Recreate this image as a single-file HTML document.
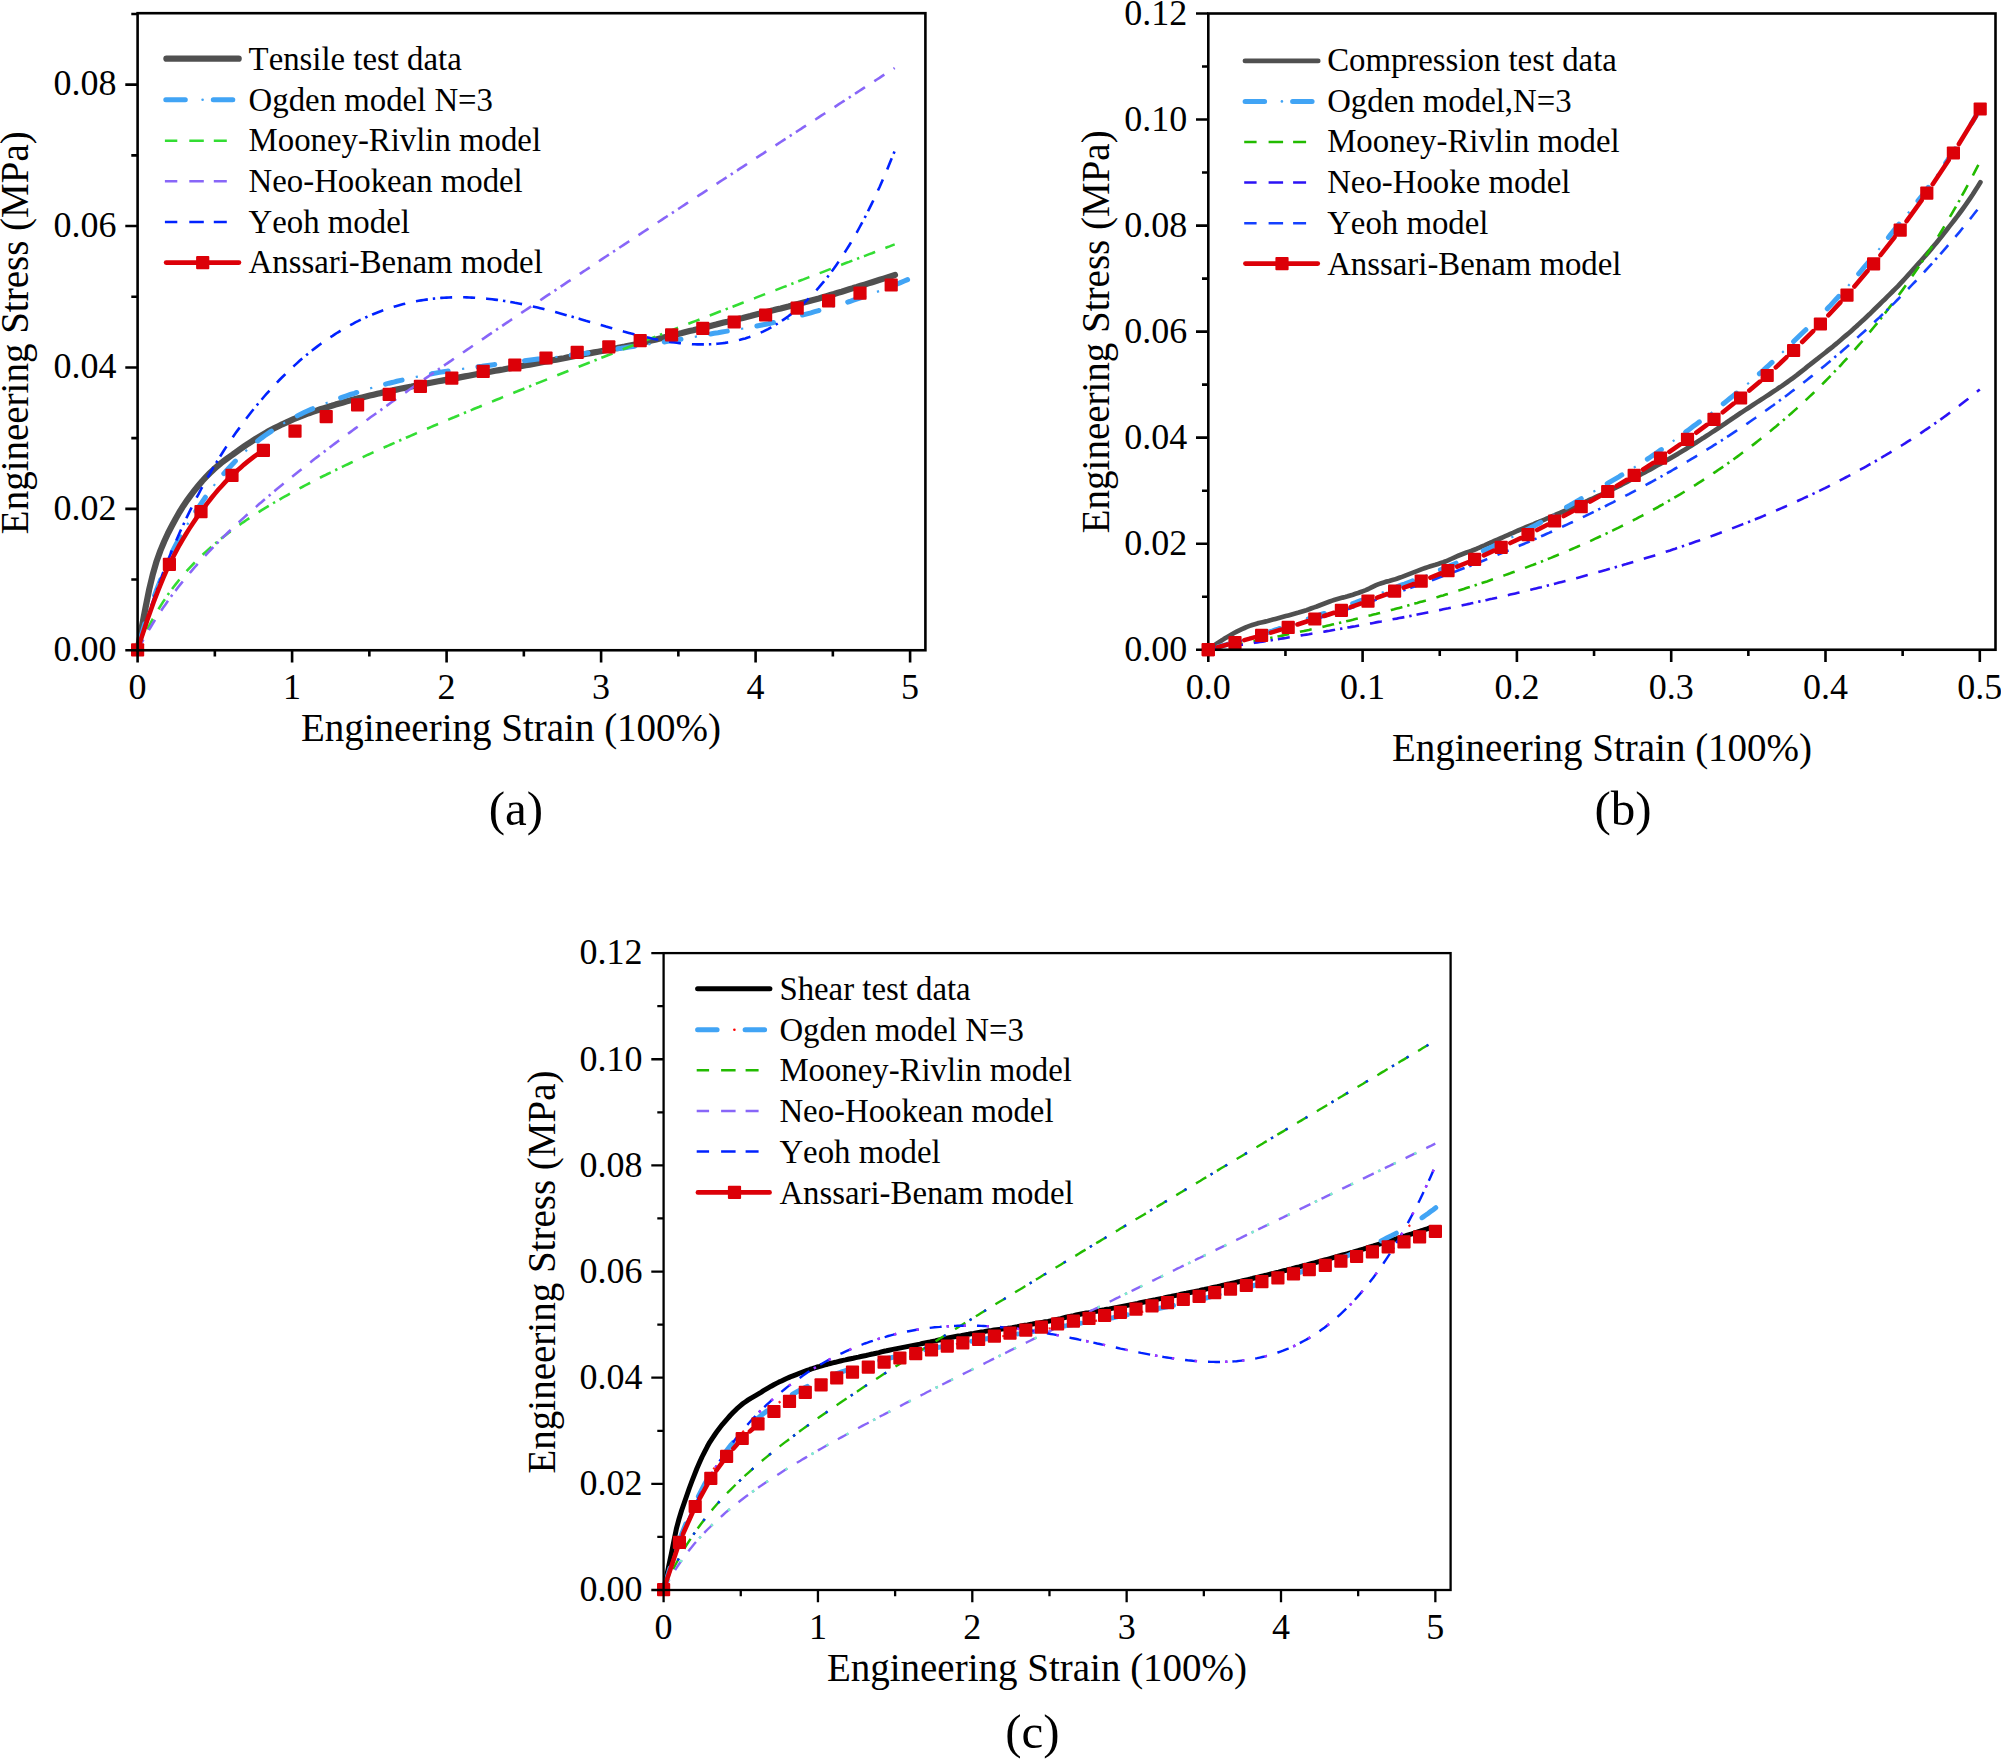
<!DOCTYPE html>
<html lang="en"><head><meta charset="utf-8"><title>Hyperelastic model fits</title>
<style>html,body{margin:0;padding:0;background:#fff}svg{display:block}text{font-family:'Liberation Serif', 'Times New Roman', serif;font-kerning:none}</style></head><body>
<svg width="2001" height="1759" viewBox="0 0 2001 1759">
<rect width="2001" height="1759" fill="#fff"/>
<g id="chart-a">
<path d="M137.6,650.2 L141.4,629.3 L145.2,609.4 L149.0,590.3 L152.8,574.4 L156.6,561.2 L160.4,550.6 L164.2,541.5 L168.0,533.3 L171.9,525.8 L175.7,518.7 L179.5,512.0 L183.3,505.9 L187.1,500.3 L190.9,495.1 L194.7,490.2 L198.5,485.5 L202.3,481.0 L206.1,476.9 L209.9,473.0 L213.7,469.4 L217.5,466.0 L221.3,462.9 L225.1,460.0 L228.9,457.2 L232.8,454.5 L236.6,451.7 L240.4,449.0 L244.2,446.4 L248.0,443.8 L251.8,441.4 L255.6,438.9 L259.4,436.6 L263.2,434.3 L267.0,432.1 L270.8,430.1 L274.6,428.1 L278.4,426.2 L282.2,424.3 L286.0,422.6 L289.8,420.9 L293.6,419.2 L297.5,417.6 L301.3,416.1 L305.1,414.6 L308.9,413.2 L312.7,411.9 L316.5,410.6 L320.3,409.3 L324.1,408.1 L327.9,406.9 L331.7,405.8 L335.5,404.6 L339.3,403.5 L343.1,402.4 L346.9,401.3 L350.7,400.3 L354.5,399.3 L358.3,398.3 L362.2,397.4 L366.0,396.5 L369.8,395.6 L373.6,394.7 L377.4,393.8 L381.2,392.9 L385.0,392.1 L388.8,391.3 L392.6,390.4 L396.4,389.6 L400.2,388.8 L404.0,388.0 L407.8,387.2 L411.6,386.5 L415.4,385.7 L419.2,384.9 L423.1,384.2 L426.9,383.4 L430.7,382.7 L434.5,382.0 L438.3,381.3 L442.1,380.6 L445.9,379.9 L449.7,379.3 L453.5,378.6 L457.3,377.9 L461.1,377.1 L464.9,376.4 L468.7,375.7 L472.5,375.0 L476.3,374.3 L480.1,373.6 L483.9,372.9 L487.8,372.2 L491.6,371.5 L495.4,370.8 L499.2,370.1 L503.0,369.5 L506.8,368.8 L510.6,368.1 L514.4,367.4 L518.2,366.7 L522.0,366.0 L525.8,365.3 L529.6,364.6 L533.4,363.9 L537.2,363.2 L541.0,362.5 L544.8,361.8 L548.7,361.1 L552.5,360.3 L556.3,359.6 L560.1,358.9 L563.9,358.2 L567.7,357.4 L571.5,356.7 L575.3,356.0 L579.1,355.3 L582.9,354.5 L586.7,353.8 L590.5,353.1 L594.3,352.4 L598.1,351.7 L601.9,351.0 L605.7,350.3 L609.5,349.6 L613.4,348.8 L617.2,348.1 L621.0,347.3 L624.8,346.6 L628.6,345.8 L632.4,345.0 L636.2,344.2 L640.0,343.3 L643.8,342.5 L647.6,341.6 L651.4,340.6 L655.2,339.7 L659.0,338.7 L662.8,337.7 L666.6,336.7 L670.4,335.8 L674.3,334.8 L678.1,333.9 L681.9,333.0 L685.7,332.0 L689.5,331.1 L693.3,330.2 L697.1,329.2 L700.9,328.3 L704.7,327.3 L708.5,326.4 L712.3,325.4 L716.1,324.5 L719.9,323.5 L723.7,322.6 L727.5,321.7 L731.3,320.7 L735.1,319.8 L739.0,318.8 L742.8,317.9 L746.6,316.9 L750.4,316.0 L754.2,315.0 L758.0,314.1 L761.8,313.2 L765.6,312.2 L769.4,311.2 L773.2,310.3 L777.0,309.3 L780.8,308.4 L784.6,307.4 L788.4,306.5 L792.2,305.5 L796.0,304.5 L799.8,303.5 L803.7,302.5 L807.5,301.5 L811.3,300.4 L815.1,299.4 L818.9,298.4 L822.7,297.3 L826.5,296.2 L830.3,295.1 L834.1,294.0 L837.9,292.8 L841.7,291.7 L845.5,290.5 L849.3,289.3 L853.1,288.1 L856.9,287.0 L860.7,285.8 L864.6,284.6 L868.4,283.4 L872.2,282.2 L876.0,281.0 L879.8,279.8 L883.6,278.6 L887.4,277.4 L891.2,276.2 L895.0,275.0" stroke="#505050" stroke-width="6.2" stroke-linecap="round" stroke-linejoin="round" fill="none"/>
<path d="M137.6,650.2 L141.5,635.5 L145.3,622.1 L149.2,610.3 L153.1,599.5 L156.9,589.2 L160.8,579.2 L164.7,569.4 L168.6,560.1 L172.4,551.5 L176.3,543.8 L180.2,536.7 L184.0,529.9 L187.9,523.6 L191.8,517.5 L195.6,511.5 L199.5,505.8 L203.4,500.1 L207.2,494.6 L211.1,489.3 L215.0,484.2 L218.9,479.3 L222.7,474.8 L226.6,470.4 L230.5,466.2 L234.3,462.2 L238.2,458.3 L242.1,454.5 L245.9,450.9 L249.8,447.4 L253.7,444.2 L257.5,441.1 L261.4,438.1 L265.3,435.3 L269.2,432.6 L273.0,430.0 L276.9,427.5 L280.8,425.1 L284.6,422.8 L288.5,420.5 L292.4,418.4 L296.2,416.4 L300.1,414.4 L304.0,412.6 L307.9,410.8 L311.7,409.1 L315.6,407.4 L319.5,405.8 L323.3,404.3 L327.2,402.8 L331.1,401.3 L334.9,399.9 L338.8,398.5 L342.7,397.1 L346.5,395.8 L350.4,394.5 L354.3,393.3 L358.2,392.0 L362.0,390.8 L365.9,389.6 L369.8,388.5 L373.6,387.4 L377.5,386.3 L381.4,385.2 L385.2,384.2 L389.1,383.2 L393.0,382.3 L396.8,381.3 L400.7,380.4 L404.6,379.5 L408.5,378.6 L412.3,377.7 L416.2,376.9 L420.1,376.1 L423.9,375.3 L427.8,374.5 L431.7,373.8 L435.5,373.1 L439.4,372.4 L443.3,371.8 L447.1,371.2 L451.0,370.6 L454.9,370.0 L458.8,369.5 L462.6,368.9 L466.5,368.4 L470.4,367.9 L474.2,367.3 L478.1,366.8 L482.0,366.3 L485.8,365.7 L489.7,365.2 L493.6,364.7 L497.4,364.2 L501.3,363.7 L505.2,363.2 L509.1,362.7 L512.9,362.2 L516.8,361.7 L520.7,361.2 L524.5,360.7 L528.4,360.2 L532.3,359.7 L536.1,359.2 L540.0,358.8 L543.9,358.3 L547.8,357.9 L551.6,357.4 L555.5,357.0 L559.4,356.5 L563.2,356.1 L567.1,355.6 L571.0,355.1 L574.8,354.7 L578.7,354.2 L582.6,353.7 L586.4,353.2 L590.3,352.6 L594.2,352.1 L598.1,351.6 L601.9,351.0 L605.8,350.5 L609.7,349.9 L613.5,349.4 L617.4,348.8 L621.3,348.3 L625.1,347.7 L629.0,347.1 L632.9,346.6 L636.7,346.0 L640.6,345.5 L644.5,344.9 L648.4,344.3 L652.2,343.7 L656.1,343.2 L660.0,342.6 L663.8,342.0 L667.7,341.4 L671.6,340.7 L675.4,340.1 L679.3,339.5 L683.2,338.8 L687.0,338.1 L690.9,337.4 L694.8,336.8 L698.7,336.1 L702.5,335.4 L706.4,334.7 L710.3,334.0 L714.1,333.3 L718.0,332.7 L721.9,332.0 L725.7,331.4 L729.6,330.7 L733.5,330.1 L737.3,329.5 L741.2,328.8 L745.1,328.2 L749.0,327.5 L752.8,326.8 L756.7,326.1 L760.6,325.3 L764.4,324.5 L768.3,323.7 L772.2,322.8 L776.0,321.9 L779.9,320.9 L783.8,320.0 L787.7,319.0 L791.5,318.0 L795.4,316.9 L799.3,315.9 L803.1,314.9 L807.0,313.8 L810.9,312.8 L814.7,311.7 L818.6,310.6 L822.5,309.6 L826.3,308.5 L830.2,307.4 L834.1,306.2 L838.0,305.1 L841.8,303.9 L845.7,302.7 L849.6,301.5 L853.4,300.2 L857.3,298.9 L861.2,297.6 L865.0,296.2 L868.9,294.8 L872.8,293.4 L876.6,292.0 L880.5,290.6 L884.4,289.1 L888.3,287.6 L892.1,286.0 L896.0,284.4 L899.9,282.9 L903.7,281.2 L907.6,279.6" stroke="#41a4f5" stroke-width="5" stroke-linecap="round" fill="none" stroke-dasharray="17 30" stroke-dashoffset="36.6"/>
<path d="M137.6,650.2 L141.5,635.5 L145.3,622.1 L149.2,610.3 L153.1,599.5 L156.9,589.2 L160.8,579.2 L164.7,569.4 L168.6,560.1 L172.4,551.5 L176.3,543.8 L180.2,536.7 L184.0,529.9 L187.9,523.6 L191.8,517.5 L195.6,511.5 L199.5,505.8 L203.4,500.1 L207.2,494.6 L211.1,489.3 L215.0,484.2 L218.9,479.3 L222.7,474.8 L226.6,470.4 L230.5,466.2 L234.3,462.2 L238.2,458.3 L242.1,454.5 L245.9,450.9 L249.8,447.4 L253.7,444.2 L257.5,441.1 L261.4,438.1 L265.3,435.3 L269.2,432.6 L273.0,430.0 L276.9,427.5 L280.8,425.1 L284.6,422.8 L288.5,420.5 L292.4,418.4 L296.2,416.4 L300.1,414.4 L304.0,412.6 L307.9,410.8 L311.7,409.1 L315.6,407.4 L319.5,405.8 L323.3,404.3 L327.2,402.8 L331.1,401.3 L334.9,399.9 L338.8,398.5 L342.7,397.1 L346.5,395.8 L350.4,394.5 L354.3,393.3 L358.2,392.0 L362.0,390.8 L365.9,389.6 L369.8,388.5 L373.6,387.4 L377.5,386.3 L381.4,385.2 L385.2,384.2 L389.1,383.2 L393.0,382.3 L396.8,381.3 L400.7,380.4 L404.6,379.5 L408.5,378.6 L412.3,377.7 L416.2,376.9 L420.1,376.1 L423.9,375.3 L427.8,374.5 L431.7,373.8 L435.5,373.1 L439.4,372.4 L443.3,371.8 L447.1,371.2 L451.0,370.6 L454.9,370.0 L458.8,369.5 L462.6,368.9 L466.5,368.4 L470.4,367.9 L474.2,367.3 L478.1,366.8 L482.0,366.3 L485.8,365.7 L489.7,365.2 L493.6,364.7 L497.4,364.2 L501.3,363.7 L505.2,363.2 L509.1,362.7 L512.9,362.2 L516.8,361.7 L520.7,361.2 L524.5,360.7 L528.4,360.2 L532.3,359.7 L536.1,359.2 L540.0,358.8 L543.9,358.3 L547.8,357.9 L551.6,357.4 L555.5,357.0 L559.4,356.5 L563.2,356.1 L567.1,355.6 L571.0,355.1 L574.8,354.7 L578.7,354.2 L582.6,353.7 L586.4,353.2 L590.3,352.6 L594.2,352.1 L598.1,351.6 L601.9,351.0 L605.8,350.5 L609.7,349.9 L613.5,349.4 L617.4,348.8 L621.3,348.3 L625.1,347.7 L629.0,347.1 L632.9,346.6 L636.7,346.0 L640.6,345.5 L644.5,344.9 L648.4,344.3 L652.2,343.7 L656.1,343.2 L660.0,342.6 L663.8,342.0 L667.7,341.4 L671.6,340.7 L675.4,340.1 L679.3,339.5 L683.2,338.8 L687.0,338.1 L690.9,337.4 L694.8,336.8 L698.7,336.1 L702.5,335.4 L706.4,334.7 L710.3,334.0 L714.1,333.3 L718.0,332.7 L721.9,332.0 L725.7,331.4 L729.6,330.7 L733.5,330.1 L737.3,329.5 L741.2,328.8 L745.1,328.2 L749.0,327.5 L752.8,326.8 L756.7,326.1 L760.6,325.3 L764.4,324.5 L768.3,323.7 L772.2,322.8 L776.0,321.9 L779.9,320.9 L783.8,320.0 L787.7,319.0 L791.5,318.0 L795.4,316.9 L799.3,315.9 L803.1,314.9 L807.0,313.8 L810.9,312.8 L814.7,311.7 L818.6,310.6 L822.5,309.6 L826.3,308.5 L830.2,307.4 L834.1,306.2 L838.0,305.1 L841.8,303.9 L845.7,302.7 L849.6,301.5 L853.4,300.2 L857.3,298.9 L861.2,297.6 L865.0,296.2 L868.9,294.8 L872.8,293.4 L876.6,292.0 L880.5,290.6 L884.4,289.1 L888.3,287.6 L892.1,286.0 L896.0,284.4 L899.9,282.9 L903.7,281.2 L907.6,279.6" stroke="#41a4f5" stroke-width="2.2" fill="none" stroke-dasharray="0 31 2.2 13.8" stroke-dashoffset="36.6"/>
<path d="M137.6,650.2 L140.1,644.4 L142.7,638.8 L145.2,633.5 L147.7,628.4 L150.3,623.6 L152.8,618.9 L155.3,614.5 L157.9,610.2 L160.4,606.1 L162.9,602.1 L165.5,598.3 L168.0,594.6 L170.5,591.1 L173.0,587.7 L175.6,584.4 L178.1,581.2 L180.6,578.1 L183.2,575.1 L185.7,572.2 L188.2,569.4 L190.8,566.6 L193.3,564.0 L195.8,561.4 L198.4,558.9 L200.9,556.4 L203.4,554.0 L206.0,551.7 L208.5,549.4 L211.0,547.1 L213.6,544.9 L216.1,542.8 L218.6,540.7 L221.2,538.6 L223.7,536.6 L226.2,534.7 L228.7,532.7 L231.3,530.8 L233.8,528.9 L236.3,527.1 L238.9,525.3 L241.4,523.5 L243.9,521.8 L246.5,520.0 L249.0,518.3 L251.5,516.7 L254.1,515.0 L256.6,513.4 L259.1,511.8 L261.7,510.2 L264.2,508.6 L266.7,507.1 L269.3,505.5 L271.8,504.0 L274.3,502.5 L276.9,501.0 L279.4,499.6 L281.9,498.1 L284.5,496.7 L287.0,495.3 L289.5,493.9 L292.0,492.5 L294.6,491.1 L297.1,489.7 L299.6,488.3 L302.2,487.0 L304.7,485.6 L307.2,484.3 L309.8,483.0 L312.3,481.7 L314.8,480.4 L317.4,479.1 L319.9,477.8 L322.4,476.5 L325.0,475.3 L327.5,474.0 L330.0,472.8 L332.6,471.5 L335.1,470.3 L337.6,469.0 L340.2,467.8 L342.7,466.6 L345.2,465.4 L347.8,464.2 L350.3,463.0 L352.8,461.8 L355.3,460.6 L357.9,459.4 L360.4,458.3 L362.9,457.1 L365.5,455.9 L368.0,454.7 L370.5,453.6 L373.1,452.4 L375.6,451.3 L378.1,450.1 L380.7,449.0 L383.2,447.9 L385.7,446.7 L388.3,445.6 L390.8,444.5 L393.3,443.4 L395.9,442.2 L398.4,441.1 L400.9,440.0 L403.5,438.9 L406.0,437.8 L408.5,436.7 L411.0,435.6 L413.6,434.5 L416.1,433.4 L418.6,432.3 L421.2,431.2 L423.7,430.1 L426.2,429.0 L428.8,428.0 L431.3,426.9 L433.8,425.8 L436.4,424.7 L438.9,423.7 L441.4,422.6 L444.0,421.5 L446.5,420.5 L449.0,419.4 L451.6,418.3 L454.1,417.3 L456.6,416.2 L459.2,415.1 L461.7,414.1 L464.2,413.0 L466.8,412.0 L469.3,410.9 L471.8,409.9 L474.3,408.8 L476.9,407.8 L479.4,406.8 L481.9,405.7 L484.5,404.7 L487.0,403.6 L489.5,402.6 L492.1,401.6 L494.6,400.5 L497.1,399.5 L499.7,398.5 L502.2,397.4 L504.7,396.4 L507.3,395.4 L509.8,394.3 L512.3,393.3 L514.9,392.3 L517.4,391.3 L519.9,390.2 L522.5,389.2 L525.0,388.2 L527.5,387.2 L530.1,386.2 L532.6,385.1 L535.1,384.1 L537.6,383.1 L540.2,382.1 L542.7,381.1 L545.2,380.1 L547.8,379.1 L550.3,378.0 L552.8,377.0 L555.4,376.0 L557.9,375.0 L560.4,374.0 L563.0,373.0 L565.5,372.0 L568.0,371.0 L570.6,370.0 L573.1,369.0 L575.6,368.0 L578.2,367.0 L580.7,366.0 L583.2,365.0 L585.8,364.0 L588.3,363.0 L590.8,362.0 L593.3,361.0 L595.9,360.0 L598.4,359.0 L600.9,358.0 L603.5,357.0 L606.0,356.0 L608.5,355.0 L611.1,354.0 L613.6,353.0 L616.1,352.0 L618.7,351.0 L621.2,350.0 L623.7,349.0 L626.3,348.0 L628.8,347.0 L631.3,346.0 L633.9,345.0 L636.4,344.0 L638.9,343.0 L641.5,342.1 L644.0,341.1 L646.5,340.1 L649.1,339.1 L651.6,338.1 L654.1,337.1 L656.6,336.1 L659.2,335.1 L661.7,334.2 L664.2,333.2 L666.8,332.2 L669.3,331.2 L671.8,330.2 L674.4,329.2 L676.9,328.2 L679.4,327.3 L682.0,326.3 L684.5,325.3 L687.0,324.3 L689.6,323.3 L692.1,322.3 L694.6,321.4 L697.2,320.4 L699.7,319.4 L702.2,318.4 L704.8,317.4 L707.3,316.4 L709.8,315.5 L712.4,314.5 L714.9,313.5 L717.4,312.5 L719.9,311.5 L722.5,310.6 L725.0,309.6 L727.5,308.6 L730.1,307.6 L732.6,306.7 L735.1,305.7 L737.7,304.7 L740.2,303.7 L742.7,302.7 L745.3,301.8 L747.8,300.8 L750.3,299.8 L752.9,298.8 L755.4,297.9 L757.9,296.9 L760.5,295.9 L763.0,294.9 L765.5,294.0 L768.1,293.0 L770.6,292.0 L773.1,291.0 L775.6,290.1 L778.2,289.1 L780.7,288.1 L783.2,287.1 L785.8,286.2 L788.3,285.2 L790.8,284.2 L793.4,283.2 L795.9,282.3 L798.4,281.3 L801.0,280.3 L803.5,279.4 L806.0,278.4 L808.6,277.4 L811.1,276.4 L813.6,275.5 L816.2,274.5 L818.7,273.5 L821.2,272.6 L823.8,271.6 L826.3,270.6 L828.8,269.6 L831.4,268.7 L833.9,267.7 L836.4,266.7 L838.9,265.8 L841.5,264.8 L844.0,263.8 L846.5,262.8 L849.1,261.9 L851.6,260.9 L854.1,259.9 L856.7,259.0 L859.2,258.0 L861.7,257.0 L864.3,256.1 L866.8,255.1 L869.3,254.1 L871.9,253.2 L874.4,252.2 L876.9,251.2 L879.5,250.3 L882.0,249.3 L884.5,248.3 L887.1,247.3 L889.6,246.4 L892.1,245.4 L894.7,244.4" stroke="#33dd33" stroke-width="2.6" fill="none" stroke-dasharray="12 11 12 11 12 5 2.4 5"/>
<path d="M137.6,650.2 L140.1,645.5 L142.7,640.8 L145.2,636.3 L147.7,631.9 L150.3,627.7 L152.8,623.5 L155.3,619.5 L157.9,615.6 L160.4,611.8 L162.9,608.0 L165.5,604.4 L168.0,600.8 L170.5,597.4 L173.0,593.9 L175.6,590.6 L178.1,587.3 L180.6,584.1 L183.2,581.0 L185.7,577.9 L188.2,574.8 L190.8,571.8 L193.3,568.9 L195.8,566.0 L198.4,563.2 L200.9,560.4 L203.4,557.6 L206.0,554.9 L208.5,552.2 L211.0,549.5 L213.6,546.9 L216.1,544.3 L218.6,541.8 L221.2,539.2 L223.7,536.7 L226.2,534.3 L228.7,531.8 L231.3,529.4 L233.8,527.0 L236.3,524.6 L238.9,522.3 L241.4,519.9 L243.9,517.6 L246.5,515.3 L249.0,513.1 L251.5,510.8 L254.1,508.6 L256.6,506.4 L259.1,504.1 L261.7,502.0 L264.2,499.8 L266.7,497.6 L269.3,495.5 L271.8,493.4 L274.3,491.2 L276.9,489.1 L279.4,487.0 L281.9,485.0 L284.5,482.9 L287.0,480.8 L289.5,478.8 L292.0,476.8 L294.6,474.7 L297.1,472.7 L299.6,470.7 L302.2,468.7 L304.7,466.7 L307.2,464.7 L309.8,462.8 L312.3,460.8 L314.8,458.8 L317.4,456.9 L319.9,454.9 L322.4,453.0 L325.0,451.1 L327.5,449.2 L330.0,447.2 L332.6,445.3 L335.1,443.4 L337.6,441.5 L340.2,439.6 L342.7,437.8 L345.2,435.9 L347.8,434.0 L350.3,432.1 L352.8,430.3 L355.3,428.4 L357.9,426.6 L360.4,424.7 L362.9,422.9 L365.5,421.0 L368.0,419.2 L370.5,417.3 L373.1,415.5 L375.6,413.7 L378.1,411.9 L380.7,410.1 L383.2,408.2 L385.7,406.4 L388.3,404.6 L390.8,402.8 L393.3,401.0 L395.9,399.2 L398.4,397.4 L400.9,395.6 L403.5,393.8 L406.0,392.1 L408.5,390.3 L411.0,388.5 L413.6,386.7 L416.1,385.0 L418.6,383.2 L421.2,381.4 L423.7,379.6 L426.2,377.9 L428.8,376.1 L431.3,374.4 L433.8,372.6 L436.4,370.8 L438.9,369.1 L441.4,367.3 L444.0,365.6 L446.5,363.8 L449.0,362.1 L451.6,360.4 L454.1,358.6 L456.6,356.9 L459.2,355.1 L461.7,353.4 L464.2,351.7 L466.8,349.9 L469.3,348.2 L471.8,346.5 L474.3,344.8 L476.9,343.0 L479.4,341.3 L481.9,339.6 L484.5,337.9 L487.0,336.1 L489.5,334.4 L492.1,332.7 L494.6,331.0 L497.1,329.3 L499.7,327.6 L502.2,325.9 L504.7,324.1 L507.3,322.4 L509.8,320.7 L512.3,319.0 L514.9,317.3 L517.4,315.6 L519.9,313.9 L522.5,312.2 L525.0,310.5 L527.5,308.8 L530.1,307.1 L532.6,305.4 L535.1,303.7 L537.6,302.0 L540.2,300.3 L542.7,298.6 L545.2,296.9 L547.8,295.2 L550.3,293.6 L552.8,291.9 L555.4,290.2 L557.9,288.5 L560.4,286.8 L563.0,285.1 L565.5,283.4 L568.0,281.7 L570.6,280.1 L573.1,278.4 L575.6,276.7 L578.2,275.0 L580.7,273.3 L583.2,271.6 L585.8,270.0 L588.3,268.3 L590.8,266.6 L593.3,264.9 L595.9,263.2 L598.4,261.6 L600.9,259.9 L603.5,258.2 L606.0,256.5 L608.5,254.9 L611.1,253.2 L613.6,251.5 L616.1,249.9 L618.7,248.2 L621.2,246.5 L623.7,244.8 L626.3,243.2 L628.8,241.5 L631.3,239.8 L633.9,238.2 L636.4,236.5 L638.9,234.8 L641.5,233.2 L644.0,231.5 L646.5,229.8 L649.1,228.2 L651.6,226.5 L654.1,224.8 L656.6,223.2 L659.2,221.5 L661.7,219.8 L664.2,218.2 L666.8,216.5 L669.3,214.8 L671.8,213.2 L674.4,211.5 L676.9,209.9 L679.4,208.2 L682.0,206.5 L684.5,204.9 L687.0,203.2 L689.6,201.6 L692.1,199.9 L694.6,198.2 L697.2,196.6 L699.7,194.9 L702.2,193.3 L704.8,191.6 L707.3,190.0 L709.8,188.3 L712.4,186.6 L714.9,185.0 L717.4,183.3 L719.9,181.7 L722.5,180.0 L725.0,178.4 L727.5,176.7 L730.1,175.1 L732.6,173.4 L735.1,171.7 L737.7,170.1 L740.2,168.4 L742.7,166.8 L745.3,165.1 L747.8,163.5 L750.3,161.8 L752.9,160.2 L755.4,158.5 L757.9,156.9 L760.5,155.2 L763.0,153.6 L765.5,151.9 L768.1,150.3 L770.6,148.6 L773.1,147.0 L775.6,145.3 L778.2,143.7 L780.7,142.0 L783.2,140.4 L785.8,138.7 L788.3,137.1 L790.8,135.4 L793.4,133.8 L795.9,132.1 L798.4,130.5 L801.0,128.9 L803.5,127.2 L806.0,125.6 L808.6,123.9 L811.1,122.3 L813.6,120.6 L816.2,119.0 L818.7,117.3 L821.2,115.7 L823.8,114.0 L826.3,112.4 L828.8,110.7 L831.4,109.1 L833.9,107.5 L836.4,105.8 L838.9,104.2 L841.5,102.5 L844.0,100.9 L846.5,99.2 L849.1,97.6 L851.6,95.9 L854.1,94.3 L856.7,92.7 L859.2,91.0 L861.7,89.4 L864.3,87.7 L866.8,86.1 L869.3,84.4 L871.9,82.8 L874.4,81.2 L876.9,79.5 L879.5,77.9 L882.0,76.2 L884.5,74.6 L887.1,73.0 L889.6,71.3 L892.1,69.7 L894.7,68.0" stroke="#8866f8" stroke-width="2.6" fill="none" stroke-dasharray="12 11 12 11 12 5 2.4 5"/>
<path d="M137.6,650.2 L140.1,641.5 L142.7,633.0 L145.2,624.7 L147.7,616.7 L150.3,609.0 L152.8,601.4 L155.3,594.1 L157.9,587.0 L160.4,580.1 L162.9,573.3 L165.5,566.8 L168.0,560.3 L170.5,554.1 L173.0,548.0 L175.6,542.1 L178.1,536.3 L180.6,530.6 L183.2,525.1 L185.7,519.6 L188.2,514.4 L190.8,509.2 L193.3,504.1 L195.8,499.2 L198.4,494.3 L200.9,489.5 L203.4,484.9 L206.0,480.3 L208.5,475.9 L211.0,471.5 L213.6,467.2 L216.1,463.0 L218.6,458.9 L221.2,454.8 L223.7,450.8 L226.2,446.9 L228.7,443.1 L231.3,439.4 L233.8,435.7 L236.3,432.1 L238.9,428.6 L241.4,425.1 L243.9,421.7 L246.5,418.3 L249.0,415.0 L251.5,411.8 L254.1,408.6 L256.6,405.5 L259.1,402.5 L261.7,399.5 L264.2,396.5 L266.7,393.7 L269.3,390.8 L271.8,388.1 L274.3,385.3 L276.9,382.7 L279.4,380.0 L281.9,377.5 L284.5,375.0 L287.0,372.5 L289.5,370.1 L292.0,367.7 L294.6,365.4 L297.1,363.1 L299.6,360.8 L302.2,358.6 L304.7,356.5 L307.2,354.4 L309.8,352.3 L312.3,350.3 L314.8,348.4 L317.4,346.4 L319.9,344.5 L322.4,342.7 L325.0,340.9 L327.5,339.2 L330.0,337.4 L332.6,335.8 L335.1,334.1 L337.6,332.5 L340.2,331.0 L342.7,329.5 L345.2,328.0 L347.8,326.5 L350.3,325.1 L352.8,323.8 L355.3,322.4 L357.9,321.2 L360.4,319.9 L362.9,318.7 L365.5,317.5 L368.0,316.4 L370.5,315.3 L373.1,314.2 L375.6,313.2 L378.1,312.2 L380.7,311.2 L383.2,310.3 L385.7,309.4 L388.3,308.5 L390.8,307.7 L393.3,306.9 L395.9,306.2 L398.4,305.5 L400.9,304.8 L403.5,304.1 L406.0,303.5 L408.5,302.9 L411.0,302.3 L413.6,301.8 L416.1,301.3 L418.6,300.8 L421.2,300.4 L423.7,300.0 L426.2,299.6 L428.8,299.2 L431.3,298.9 L433.8,298.6 L436.4,298.4 L438.9,298.1 L441.4,297.9 L444.0,297.8 L446.5,297.6 L449.0,297.5 L451.6,297.4 L454.1,297.3 L456.6,297.3 L459.2,297.3 L461.7,297.3 L464.2,297.3 L466.8,297.4 L469.3,297.5 L471.8,297.6 L474.3,297.7 L476.9,297.9 L479.4,298.0 L481.9,298.2 L484.5,298.5 L487.0,298.7 L489.5,299.0 L492.1,299.3 L494.6,299.6 L497.1,299.9 L499.7,300.3 L502.2,300.6 L504.7,301.0 L507.3,301.4 L509.8,301.9 L512.3,302.3 L514.9,302.8 L517.4,303.2 L519.9,303.7 L522.5,304.2 L525.0,304.8 L527.5,305.3 L530.1,305.9 L532.6,306.4 L535.1,307.0 L537.6,307.6 L540.2,308.2 L542.7,308.8 L545.2,309.5 L547.8,310.1 L550.3,310.8 L552.8,311.4 L555.4,312.1 L557.9,312.8 L560.4,313.5 L563.0,314.2 L565.5,314.9 L568.0,315.6 L570.6,316.3 L573.1,317.0 L575.6,317.7 L578.2,318.5 L580.7,319.2 L583.2,319.9 L585.8,320.7 L588.3,321.4 L590.8,322.1 L593.3,322.9 L595.9,323.6 L598.4,324.4 L600.9,325.1 L603.5,325.8 L606.0,326.6 L608.5,327.3 L611.1,328.0 L613.6,328.7 L616.1,329.5 L618.7,330.2 L621.2,330.9 L623.7,331.6 L626.3,332.2 L628.8,332.9 L631.3,333.6 L633.9,334.2 L636.4,334.9 L638.9,335.5 L641.5,336.1 L644.0,336.7 L646.5,337.3 L649.1,337.8 L651.6,338.4 L654.1,338.9 L656.6,339.4 L659.2,339.9 L661.7,340.4 L664.2,340.8 L666.8,341.3 L669.3,341.7 L671.8,342.1 L674.4,342.4 L676.9,342.8 L679.4,343.1 L682.0,343.3 L684.5,343.6 L687.0,343.8 L689.6,344.0 L692.1,344.2 L694.6,344.3 L697.2,344.4 L699.7,344.4 L702.2,344.4 L704.8,344.4 L707.3,344.4 L709.8,344.3 L712.4,344.2 L714.9,344.0 L717.4,343.8 L719.9,343.5 L722.5,343.2 L725.0,342.9 L727.5,342.5 L730.1,342.1 L732.6,341.6 L735.1,341.0 L737.7,340.4 L740.2,339.8 L742.7,339.1 L745.3,338.4 L747.8,337.6 L750.3,336.7 L752.9,335.8 L755.4,334.8 L757.9,333.8 L760.5,332.7 L763.0,331.6 L765.5,330.3 L768.1,329.1 L770.6,327.7 L773.1,326.3 L775.6,324.8 L778.2,323.2 L780.7,321.6 L783.2,319.9 L785.8,318.1 L788.3,316.3 L790.8,314.4 L793.4,312.3 L795.9,310.3 L798.4,308.1 L801.0,305.8 L803.5,303.5 L806.0,301.1 L808.6,298.6 L811.1,296.0 L813.6,293.3 L816.2,290.5 L818.7,287.7 L821.2,284.7 L823.8,281.7 L826.3,278.5 L828.8,275.3 L831.4,271.9 L833.9,268.5 L836.4,264.9 L838.9,261.2 L841.5,257.5 L844.0,253.6 L846.5,249.6 L849.1,245.5 L851.6,241.3 L854.1,237.0 L856.7,232.6 L859.2,228.0 L861.7,223.4 L864.3,218.6 L866.8,213.6 L869.3,208.6 L871.9,203.4 L874.4,198.2 L876.9,192.7 L879.5,187.2 L882.0,181.5 L884.5,175.7 L887.1,169.7 L889.6,163.6 L892.1,157.4 L894.7,151.0" stroke="#0022ff" stroke-width="2.6" fill="none" stroke-dasharray="12 11 12 11 12 5 2.4 5"/>
<path d="M137.6,649.8 L140.8,639.6 L144.1,629.7 L147.3,620.1 L150.5,610.9 L153.7,602.0 L157.0,593.4 L160.2,585.3 L163.4,577.6 L166.6,570.3 L169.9,563.5 L173.1,557.0 L176.3,550.9 L179.5,545.0 L182.8,539.4 L186.0,534.0 L189.2,528.9 L192.4,523.9 L195.7,519.1 L198.9,514.5 L202.1,510.1 L205.3,505.8 L208.6,501.6 L211.8,497.5 L215.0,493.6 L218.2,489.8 L221.5,486.2 L224.7,482.7 L227.9,479.4 L231.1,476.2 L234.4,473.2 L237.6,470.2 L240.8,467.4 L244.0,464.6 L247.3,461.9 L250.5,459.4 L253.7,456.9 L256.9,454.6 L260.2,452.4 L263.4,450.4" stroke="#dc0008" stroke-width="4.6" stroke-linecap="round" fill="none"/>
<g fill="#dc0008"><rect x="131.0" y="643.2" width="13.2" height="13.2" rx="1"/><rect x="162.8" y="557.8" width="13.2" height="13.2" rx="1"/><rect x="194.4" y="505.0" width="13.2" height="13.2" rx="1"/><rect x="225.4" y="468.8" width="13.2" height="13.2" rx="1"/><rect x="256.8" y="443.8" width="13.2" height="13.2" rx="1"/><rect x="288.4" y="424.6" width="13.2" height="13.2" rx="1"/><rect x="319.6" y="410.0" width="13.2" height="13.2" rx="1"/><rect x="351.0" y="398.2" width="13.2" height="13.2" rx="1"/><rect x="382.6" y="387.8" width="13.2" height="13.2" rx="1"/><rect x="413.8" y="379.8" width="13.2" height="13.2" rx="1"/><rect x="445.2" y="371.6" width="13.2" height="13.2" rx="1"/><rect x="476.6" y="364.8" width="13.2" height="13.2" rx="1"/><rect x="508.2" y="358.4" width="13.2" height="13.2" rx="1"/><rect x="539.4" y="351.4" width="13.2" height="13.2" rx="1"/><rect x="570.6" y="345.8" width="13.2" height="13.2" rx="1"/><rect x="602.2" y="340.2" width="13.2" height="13.2" rx="1"/><rect x="633.6" y="334.0" width="13.2" height="13.2" rx="1"/><rect x="665.0" y="328.2" width="13.2" height="13.2" rx="1"/><rect x="696.2" y="321.8" width="13.2" height="13.2" rx="1"/><rect x="727.6" y="315.4" width="13.2" height="13.2" rx="1"/><rect x="759.0" y="308.4" width="13.2" height="13.2" rx="1"/><rect x="790.6" y="301.6" width="13.2" height="13.2" rx="1"/><rect x="822.0" y="294.2" width="13.2" height="13.2" rx="1"/><rect x="853.4" y="286.6" width="13.2" height="13.2" rx="1"/><rect x="884.6" y="278.4" width="13.2" height="13.2" rx="1"/></g>
<rect x="137.60" y="13.20" width="787.80" height="637.05" fill="none" stroke="#000" stroke-width="2.6"/>
<path d="M137.60,650.25v12.3M292.10,650.25v12.3M446.60,650.25v12.3M601.10,650.25v12.3M755.60,650.25v12.3M910.10,650.25v12.3M214.85,650.25v6.3M369.35,650.25v6.3M523.85,650.25v6.3M678.35,650.25v6.3M832.85,650.25v6.3M137.60,650.25h-12.3M137.60,508.85h-12.3M137.60,367.45h-12.3M137.60,226.05h-12.3M137.60,84.65h-12.3M137.60,579.55h-6.3M137.60,438.15h-6.3M137.60,296.75h-6.3M137.60,155.35h-6.3M137.60,13.95h-6.3" stroke="#000" stroke-width="2.6" fill="none"/>
<g font-size="36" fill="#000">
<text x="137.6" y="698.8" text-anchor="middle">0</text>
<text x="292.1" y="698.8" text-anchor="middle">1</text>
<text x="446.6" y="698.8" text-anchor="middle">2</text>
<text x="601.1" y="698.8" text-anchor="middle">3</text>
<text x="755.6" y="698.8" text-anchor="middle">4</text>
<text x="910.1" y="698.8" text-anchor="middle">5</text>
<text x="116.6" y="660.9" text-anchor="end">0.00</text>
<text x="116.6" y="519.5" text-anchor="end">0.02</text>
<text x="116.6" y="378.1" text-anchor="end">0.04</text>
<text x="116.6" y="236.7" text-anchor="end">0.06</text>
<text x="116.6" y="95.2" text-anchor="end">0.08</text>
</g>
<line x1="166.4" y1="58.7" x2="238.70000000000002" y2="58.7" stroke="#505050" stroke-width="6.2" stroke-linecap="round"/>
<path d="M165.8,99.7h19.5M213.3,99.7h19.5" stroke="#41a4f5" stroke-width="5" stroke-linecap="round" fill="none"/>
<circle cx="202.60000000000002" cy="99.7" r="1.3" fill="#41a4f5"/>
<path d="M164.9,140.7h12.4M189.3,140.7h14.5M213.8,140.7h13" stroke="#33dd33" stroke-width="2.5" fill="none"/>
<path d="M164.9,181.2h12.4M189.3,181.2h14.5M213.8,181.2h13" stroke="#8866f8" stroke-width="2.5" fill="none"/>
<path d="M164.9,222h12.4M189.3,222h14.5M213.8,222h13" stroke="#0022ff" stroke-width="2.5" fill="none"/>
<line x1="166.10000000000002" y1="262.6" x2="239.0" y2="262.6" stroke="#dc0008" stroke-width="4.6" stroke-linecap="round"/>
<rect x="196.1" y="256.0" width="13.2" height="13.2" rx="1" fill="#dc0008"/>
<g font-size="32.8" fill="#000">
<text x="248.6" y="69.5">Tensile test data</text>
<text x="248.6" y="110.5">Ogden model N=3</text>
<text x="248.6" y="150.9">Mooney-Rivlin model</text>
<text x="248.6" y="191.9">Neo-Hookean model</text>
<text x="248.6" y="232.5">Yeoh model</text>
<text x="248.6" y="273.4">Anssari-Benam model</text>
</g>
<text x="511" y="740.8" font-size="39" text-anchor="middle">Engineering Strain (100%)</text>
<text transform="translate(27.5,332.7) rotate(-90)" font-size="39" text-anchor="middle">Engineering Stress (MPa)</text>
<text x="516" y="825" font-size="49" text-anchor="middle">(a)</text>
</g>
<g id="chart-b">
<path d="M1208.3,649.8 L1210.9,647.8 L1213.5,646.0 L1216.0,644.2 L1218.6,642.4 L1221.2,640.8 L1223.8,639.1 L1226.4,637.5 L1229.0,636.0 L1231.5,634.5 L1234.1,633.0 L1236.7,631.6 L1239.3,630.3 L1241.9,629.1 L1244.5,628.0 L1247.0,626.9 L1249.6,625.9 L1252.2,625.0 L1254.8,624.2 L1257.4,623.4 L1259.9,622.8 L1262.5,622.2 L1265.1,621.6 L1267.7,621.0 L1270.3,620.3 L1272.9,619.6 L1275.4,618.9 L1278.0,618.2 L1280.6,617.5 L1283.2,616.8 L1285.8,616.1 L1288.4,615.4 L1290.9,614.7 L1293.5,614.0 L1296.1,613.3 L1298.7,612.6 L1301.3,611.8 L1303.8,611.0 L1306.4,610.2 L1309.0,609.3 L1311.6,608.3 L1314.2,607.4 L1316.8,606.5 L1319.3,605.5 L1321.9,604.5 L1324.5,603.5 L1327.1,602.5 L1329.7,601.5 L1332.2,600.6 L1334.8,599.7 L1337.4,599.0 L1340.0,598.3 L1342.6,597.6 L1345.2,597.0 L1347.7,596.3 L1350.3,595.5 L1352.9,594.7 L1355.5,593.8 L1358.1,593.0 L1360.7,592.0 L1363.2,591.1 L1365.8,590.1 L1368.4,589.0 L1371.0,587.7 L1373.6,586.4 L1376.1,585.2 L1378.7,584.1 L1381.3,583.2 L1383.9,582.4 L1386.5,581.6 L1389.1,581.0 L1391.6,580.3 L1394.2,579.6 L1396.8,578.7 L1399.4,577.8 L1402.0,576.9 L1404.6,575.9 L1407.1,574.9 L1409.7,573.9 L1412.3,572.9 L1414.9,571.9 L1417.5,570.9 L1420.0,569.9 L1422.6,568.9 L1425.2,568.0 L1427.8,567.1 L1430.4,566.2 L1433.0,565.4 L1435.5,564.7 L1438.1,563.9 L1440.7,563.1 L1443.3,562.3 L1445.9,561.3 L1448.5,560.2 L1451.0,559.0 L1453.6,557.8 L1456.2,556.6 L1458.8,555.5 L1461.4,554.5 L1463.9,553.5 L1466.5,552.5 L1469.1,551.6 L1471.7,550.7 L1474.3,549.7 L1476.9,548.7 L1479.4,547.6 L1482.0,546.4 L1484.6,545.3 L1487.2,544.1 L1489.8,543.0 L1492.4,541.8 L1494.9,540.7 L1497.5,539.6 L1500.1,538.5 L1502.7,537.3 L1505.3,536.2 L1507.8,535.1 L1510.4,533.9 L1513.0,532.8 L1515.6,531.6 L1518.2,530.5 L1520.8,529.4 L1523.3,528.3 L1525.9,527.2 L1528.5,526.1 L1531.1,525.1 L1533.7,524.1 L1536.2,523.0 L1538.8,522.0 L1541.4,520.9 L1544.0,519.8 L1546.6,518.7 L1549.2,517.6 L1551.7,516.5 L1554.3,515.4 L1556.9,514.2 L1559.5,513.1 L1562.1,512.0 L1564.7,510.8 L1567.2,509.7 L1569.8,508.6 L1572.4,507.5 L1575.0,506.3 L1577.6,505.2 L1580.1,504.1 L1582.7,503.0 L1585.3,501.8 L1587.9,500.7 L1590.5,499.5 L1593.1,498.4 L1595.6,497.2 L1598.2,496.0 L1600.8,494.8 L1603.4,493.6 L1606.0,492.3 L1608.6,491.1 L1611.1,489.9 L1613.7,488.6 L1616.3,487.3 L1618.9,486.1 L1621.5,484.8 L1624.0,483.4 L1626.6,482.1 L1629.2,480.7 L1631.8,479.3 L1634.4,478.0 L1637.0,476.6 L1639.5,475.2 L1642.1,473.8 L1644.7,472.4 L1647.3,471.0 L1649.9,469.6 L1652.5,468.1 L1655.0,466.7 L1657.6,465.3 L1660.2,463.9 L1662.8,462.5 L1665.4,461.0 L1667.9,459.6 L1670.5,458.1 L1673.1,456.6 L1675.7,455.1 L1678.3,453.6 L1680.9,452.0 L1683.4,450.5 L1686.0,448.9 L1688.6,447.3 L1691.2,445.7 L1693.8,444.0 L1696.3,442.4 L1698.9,440.8 L1701.5,439.1 L1704.1,437.5 L1706.7,435.8 L1709.3,434.1 L1711.8,432.4 L1714.4,430.7 L1717.0,429.0 L1719.6,427.2 L1722.2,425.5 L1724.8,423.8 L1727.3,422.0 L1729.9,420.3 L1732.5,418.5 L1735.1,416.8 L1737.7,415.0 L1740.2,413.3 L1742.8,411.6 L1745.4,409.9 L1748.0,408.2 L1750.6,406.5 L1753.2,404.8 L1755.7,403.1 L1758.3,401.4 L1760.9,399.8 L1763.5,398.1 L1766.1,396.4 L1768.7,394.7 L1771.2,393.0 L1773.8,391.3 L1776.4,389.6 L1779.0,387.8 L1781.6,386.1 L1784.1,384.3 L1786.7,382.5 L1789.3,380.6 L1791.9,378.8 L1794.5,376.8 L1797.1,374.9 L1799.6,372.9 L1802.2,370.8 L1804.8,368.8 L1807.4,366.7 L1810.0,364.7 L1812.6,362.6 L1815.1,360.6 L1817.7,358.6 L1820.3,356.5 L1822.9,354.5 L1825.5,352.5 L1828.0,350.4 L1830.6,348.3 L1833.2,346.3 L1835.8,344.1 L1838.4,342.0 L1841.0,339.8 L1843.5,337.6 L1846.1,335.4 L1848.7,333.2 L1851.3,330.9 L1853.9,328.6 L1856.5,326.3 L1859.0,323.9 L1861.6,321.6 L1864.2,319.2 L1866.8,316.7 L1869.4,314.3 L1871.9,311.8 L1874.5,309.3 L1877.1,306.8 L1879.7,304.3 L1882.3,301.7 L1884.9,299.2 L1887.4,296.7 L1890.0,294.1 L1892.6,291.5 L1895.2,288.9 L1897.8,286.3 L1900.3,283.6 L1902.9,280.8 L1905.5,278.0 L1908.1,275.2 L1910.7,272.3 L1913.3,269.4 L1915.8,266.5 L1918.4,263.6 L1921.0,260.7 L1923.6,257.8 L1926.2,254.9 L1928.8,251.9 L1931.3,248.9 L1933.9,245.8 L1936.5,242.7 L1939.1,239.5 L1941.7,236.3 L1944.2,233.0 L1946.8,229.7 L1949.4,226.4 L1952.0,223.1 L1954.6,219.7 L1957.2,216.4 L1959.7,213.0 L1962.3,209.5 L1964.9,205.9 L1967.5,202.2 L1970.1,198.4 L1972.7,194.5 L1975.2,190.5 L1977.8,186.5 L1980.4,182.3" stroke="#505050" stroke-width="4.7" stroke-linecap="round" stroke-linejoin="round" fill="none"/>
<path d="M1208.3,649.6 L1210.9,648.9 L1213.5,648.2 L1216.0,647.5 L1218.6,646.7 L1221.2,646.0 L1223.8,645.3 L1226.4,644.6 L1229.0,643.8 L1231.5,643.1 L1234.1,642.4 L1236.7,641.6 L1239.3,640.9 L1241.9,640.2 L1244.4,639.4 L1247.0,638.7 L1249.6,637.9 L1252.2,637.2 L1254.8,636.4 L1257.4,635.7 L1259.9,634.9 L1262.5,634.1 L1265.1,633.3 L1267.7,632.5 L1270.3,631.6 L1272.8,630.8 L1275.4,629.9 L1278.0,629.1 L1280.6,628.2 L1283.2,627.4 L1285.7,626.5 L1288.3,625.6 L1290.9,624.8 L1293.5,623.9 L1296.1,623.0 L1298.7,622.2 L1301.2,621.3 L1303.8,620.4 L1306.4,619.5 L1309.0,618.7 L1311.6,617.8 L1314.1,616.9 L1316.7,616.0 L1319.3,615.1 L1321.9,614.2 L1324.5,613.4 L1327.1,612.5 L1329.6,611.6 L1332.2,610.7 L1334.8,609.8 L1337.4,608.9 L1340.0,608.0 L1342.5,607.1 L1345.1,606.2 L1347.7,605.3 L1350.3,604.4 L1352.9,603.5 L1355.5,602.6 L1358.0,601.6 L1360.6,600.7 L1363.2,599.8 L1365.8,598.8 L1368.4,597.9 L1370.9,596.9 L1373.5,595.9 L1376.1,594.9 L1378.7,593.9 L1381.3,592.9 L1383.8,591.9 L1386.4,590.9 L1389.0,589.9 L1391.6,588.9 L1394.2,587.9 L1396.8,586.9 L1399.3,585.9 L1401.9,584.9 L1404.5,584.0 L1407.1,583.0 L1409.7,582.0 L1412.2,581.0 L1414.8,580.0 L1417.4,579.0 L1420.0,578.0 L1422.6,577.0 L1425.2,575.9 L1427.7,574.9 L1430.3,573.9 L1432.9,572.8 L1435.5,571.8 L1438.1,570.7 L1440.6,569.7 L1443.2,568.6 L1445.8,567.5 L1448.4,566.5 L1451.0,565.4 L1453.6,564.3 L1456.1,563.2 L1458.7,562.0 L1461.3,560.9 L1463.9,559.8 L1466.5,558.6 L1469.0,557.5 L1471.6,556.3 L1474.2,555.1 L1476.8,553.9 L1479.4,552.7 L1482.0,551.5 L1484.5,550.3 L1487.1,549.1 L1489.7,547.9 L1492.3,546.7 L1494.9,545.4 L1497.4,544.2 L1500.0,542.9 L1502.6,541.7 L1505.2,540.5 L1507.8,539.2 L1510.3,538.0 L1512.9,536.7 L1515.5,535.4 L1518.1,534.2 L1520.7,532.9 L1523.3,531.6 L1525.8,530.3 L1528.4,528.9 L1531.0,527.6 L1533.6,526.3 L1536.2,524.9 L1538.7,523.5 L1541.3,522.0 L1543.9,520.5 L1546.5,519.0 L1549.1,517.5 L1551.7,516.0 L1554.2,514.4 L1556.8,512.9 L1559.4,511.4 L1562.0,509.8 L1564.6,508.3 L1567.1,506.8 L1569.7,505.4 L1572.3,503.9 L1574.9,502.4 L1577.5,500.9 L1580.1,499.4 L1582.6,497.9 L1585.2,496.5 L1587.8,495.0 L1590.4,493.5 L1593.0,492.0 L1595.5,490.5 L1598.1,488.9 L1600.7,487.4 L1603.3,485.9 L1605.9,484.4 L1608.4,482.9 L1611.0,481.3 L1613.6,479.8 L1616.2,478.3 L1618.8,476.8 L1621.4,475.2 L1623.9,473.7 L1626.5,472.1 L1629.1,470.6 L1631.7,469.0 L1634.3,467.4 L1636.8,465.8 L1639.4,464.2 L1642.0,462.5 L1644.6,460.9 L1647.2,459.2 L1649.8,457.5 L1652.3,455.8 L1654.9,454.0 L1657.5,452.2 L1660.1,450.4 L1662.7,448.6 L1665.2,446.8 L1667.8,444.9 L1670.4,443.1 L1673.0,441.2 L1675.6,439.3 L1678.2,437.4 L1680.7,435.6 L1683.3,433.7 L1685.9,431.8 L1688.5,429.9 L1691.1,428.0 L1693.6,426.1 L1696.2,424.2 L1698.8,422.3 L1701.4,420.4 L1704.0,418.5 L1706.5,416.6 L1709.1,414.6 L1711.7,412.7 L1714.3,410.7 L1716.9,408.8 L1719.5,406.8 L1722.0,404.7 L1724.6,402.7 L1727.2,400.6 L1729.8,398.5 L1732.4,396.4 L1734.9,394.3 L1737.5,392.2 L1740.1,390.0 L1742.7,387.9 L1745.3,385.7 L1747.9,383.6 L1750.4,381.4 L1753.0,379.2 L1755.6,377.0 L1758.2,374.8 L1760.8,372.5 L1763.3,370.3 L1765.9,367.9 L1768.5,365.6 L1771.1,363.2 L1773.7,360.8 L1776.3,358.4 L1778.8,355.9 L1781.4,353.4 L1784.0,350.9 L1786.6,348.4 L1789.2,345.8 L1791.7,343.3 L1794.3,340.8 L1796.9,338.3 L1799.5,335.8 L1802.1,333.3 L1804.7,330.8 L1807.2,328.4 L1809.8,325.9 L1812.4,323.5 L1815.0,321.0 L1817.6,318.5 L1820.1,316.0 L1822.7,313.4 L1825.3,310.8 L1827.9,308.1 L1830.5,305.4 L1833.0,302.6 L1835.6,299.8 L1838.2,297.0 L1840.8,294.1 L1843.4,291.3 L1846.0,288.4 L1848.5,285.5 L1851.1,282.5 L1853.7,279.6 L1856.3,276.6 L1858.9,273.5 L1861.4,270.5 L1864.0,267.4 L1866.6,264.4 L1869.2,261.3 L1871.8,258.1 L1874.4,255.0 L1876.9,251.8 L1879.5,248.6 L1882.1,245.4 L1884.7,242.2 L1887.3,238.9 L1889.8,235.6 L1892.4,232.3 L1895.0,229.0 L1897.6,225.8 L1900.2,222.7 L1902.8,219.5 L1905.3,216.4 L1907.9,213.3 L1910.5,210.2 L1913.1,207.1 L1915.7,203.9 L1918.2,200.6 L1920.8,197.3 L1923.4,193.9 L1926.0,190.4 L1928.6,186.9 L1931.1,183.4 L1933.7,179.9 L1936.3,176.3 L1938.9,172.7 L1941.5,169.0 L1944.1,165.3 L1946.6,161.6 L1949.2,157.8 L1951.8,153.9 L1954.4,150.0 L1957.0,146.1 L1959.5,142.2 L1962.1,138.2 L1964.7,134.1 L1967.3,130.0 L1969.9,125.9 L1972.5,121.7 L1975.0,117.5 L1977.6,113.3 L1980.2,109.0" stroke="#41a4f5" stroke-width="5" stroke-linecap="round" fill="none" stroke-dasharray="17 30" stroke-dashoffset="36.4"/>
<path d="M1208.3,649.6 L1210.9,648.9 L1213.5,648.2 L1216.0,647.5 L1218.6,646.7 L1221.2,646.0 L1223.8,645.3 L1226.4,644.6 L1229.0,643.8 L1231.5,643.1 L1234.1,642.4 L1236.7,641.6 L1239.3,640.9 L1241.9,640.2 L1244.4,639.4 L1247.0,638.7 L1249.6,637.9 L1252.2,637.2 L1254.8,636.4 L1257.4,635.7 L1259.9,634.9 L1262.5,634.1 L1265.1,633.3 L1267.7,632.5 L1270.3,631.6 L1272.8,630.8 L1275.4,629.9 L1278.0,629.1 L1280.6,628.2 L1283.2,627.4 L1285.7,626.5 L1288.3,625.6 L1290.9,624.8 L1293.5,623.9 L1296.1,623.0 L1298.7,622.2 L1301.2,621.3 L1303.8,620.4 L1306.4,619.5 L1309.0,618.7 L1311.6,617.8 L1314.1,616.9 L1316.7,616.0 L1319.3,615.1 L1321.9,614.2 L1324.5,613.4 L1327.1,612.5 L1329.6,611.6 L1332.2,610.7 L1334.8,609.8 L1337.4,608.9 L1340.0,608.0 L1342.5,607.1 L1345.1,606.2 L1347.7,605.3 L1350.3,604.4 L1352.9,603.5 L1355.5,602.6 L1358.0,601.6 L1360.6,600.7 L1363.2,599.8 L1365.8,598.8 L1368.4,597.9 L1370.9,596.9 L1373.5,595.9 L1376.1,594.9 L1378.7,593.9 L1381.3,592.9 L1383.8,591.9 L1386.4,590.9 L1389.0,589.9 L1391.6,588.9 L1394.2,587.9 L1396.8,586.9 L1399.3,585.9 L1401.9,584.9 L1404.5,584.0 L1407.1,583.0 L1409.7,582.0 L1412.2,581.0 L1414.8,580.0 L1417.4,579.0 L1420.0,578.0 L1422.6,577.0 L1425.2,575.9 L1427.7,574.9 L1430.3,573.9 L1432.9,572.8 L1435.5,571.8 L1438.1,570.7 L1440.6,569.7 L1443.2,568.6 L1445.8,567.5 L1448.4,566.5 L1451.0,565.4 L1453.6,564.3 L1456.1,563.2 L1458.7,562.0 L1461.3,560.9 L1463.9,559.8 L1466.5,558.6 L1469.0,557.5 L1471.6,556.3 L1474.2,555.1 L1476.8,553.9 L1479.4,552.7 L1482.0,551.5 L1484.5,550.3 L1487.1,549.1 L1489.7,547.9 L1492.3,546.7 L1494.9,545.4 L1497.4,544.2 L1500.0,542.9 L1502.6,541.7 L1505.2,540.5 L1507.8,539.2 L1510.3,538.0 L1512.9,536.7 L1515.5,535.4 L1518.1,534.2 L1520.7,532.9 L1523.3,531.6 L1525.8,530.3 L1528.4,528.9 L1531.0,527.6 L1533.6,526.3 L1536.2,524.9 L1538.7,523.5 L1541.3,522.0 L1543.9,520.5 L1546.5,519.0 L1549.1,517.5 L1551.7,516.0 L1554.2,514.4 L1556.8,512.9 L1559.4,511.4 L1562.0,509.8 L1564.6,508.3 L1567.1,506.8 L1569.7,505.4 L1572.3,503.9 L1574.9,502.4 L1577.5,500.9 L1580.1,499.4 L1582.6,497.9 L1585.2,496.5 L1587.8,495.0 L1590.4,493.5 L1593.0,492.0 L1595.5,490.5 L1598.1,488.9 L1600.7,487.4 L1603.3,485.9 L1605.9,484.4 L1608.4,482.9 L1611.0,481.3 L1613.6,479.8 L1616.2,478.3 L1618.8,476.8 L1621.4,475.2 L1623.9,473.7 L1626.5,472.1 L1629.1,470.6 L1631.7,469.0 L1634.3,467.4 L1636.8,465.8 L1639.4,464.2 L1642.0,462.5 L1644.6,460.9 L1647.2,459.2 L1649.8,457.5 L1652.3,455.8 L1654.9,454.0 L1657.5,452.2 L1660.1,450.4 L1662.7,448.6 L1665.2,446.8 L1667.8,444.9 L1670.4,443.1 L1673.0,441.2 L1675.6,439.3 L1678.2,437.4 L1680.7,435.6 L1683.3,433.7 L1685.9,431.8 L1688.5,429.9 L1691.1,428.0 L1693.6,426.1 L1696.2,424.2 L1698.8,422.3 L1701.4,420.4 L1704.0,418.5 L1706.5,416.6 L1709.1,414.6 L1711.7,412.7 L1714.3,410.7 L1716.9,408.8 L1719.5,406.8 L1722.0,404.7 L1724.6,402.7 L1727.2,400.6 L1729.8,398.5 L1732.4,396.4 L1734.9,394.3 L1737.5,392.2 L1740.1,390.0 L1742.7,387.9 L1745.3,385.7 L1747.9,383.6 L1750.4,381.4 L1753.0,379.2 L1755.6,377.0 L1758.2,374.8 L1760.8,372.5 L1763.3,370.3 L1765.9,367.9 L1768.5,365.6 L1771.1,363.2 L1773.7,360.8 L1776.3,358.4 L1778.8,355.9 L1781.4,353.4 L1784.0,350.9 L1786.6,348.4 L1789.2,345.8 L1791.7,343.3 L1794.3,340.8 L1796.9,338.3 L1799.5,335.8 L1802.1,333.3 L1804.7,330.8 L1807.2,328.4 L1809.8,325.9 L1812.4,323.5 L1815.0,321.0 L1817.6,318.5 L1820.1,316.0 L1822.7,313.4 L1825.3,310.8 L1827.9,308.1 L1830.5,305.4 L1833.0,302.6 L1835.6,299.8 L1838.2,297.0 L1840.8,294.1 L1843.4,291.3 L1846.0,288.4 L1848.5,285.5 L1851.1,282.5 L1853.7,279.6 L1856.3,276.6 L1858.9,273.5 L1861.4,270.5 L1864.0,267.4 L1866.6,264.4 L1869.2,261.3 L1871.8,258.1 L1874.4,255.0 L1876.9,251.8 L1879.5,248.6 L1882.1,245.4 L1884.7,242.2 L1887.3,238.9 L1889.8,235.6 L1892.4,232.3 L1895.0,229.0 L1897.6,225.8 L1900.2,222.7 L1902.8,219.5 L1905.3,216.4 L1907.9,213.3 L1910.5,210.2 L1913.1,207.1 L1915.7,203.9 L1918.2,200.6 L1920.8,197.3 L1923.4,193.9 L1926.0,190.4 L1928.6,186.9 L1931.1,183.4 L1933.7,179.9 L1936.3,176.3 L1938.9,172.7 L1941.5,169.0 L1944.1,165.3 L1946.6,161.6 L1949.2,157.8 L1951.8,153.9 L1954.4,150.0 L1957.0,146.1 L1959.5,142.2 L1962.1,138.2 L1964.7,134.1 L1967.3,130.0 L1969.9,125.9 L1972.5,121.7 L1975.0,117.5 L1977.6,113.3 L1980.2,109.0" stroke="#41a4f5" stroke-width="2.2" fill="none" stroke-dasharray="0 31 2.2 13.8" stroke-dashoffset="36.4"/>
<path d="M1208.3,649.8 L1210.9,649.3 L1213.5,648.8 L1216.0,648.4 L1218.6,647.9 L1221.2,647.4 L1223.8,647.0 L1226.4,646.5 L1228.9,646.0 L1231.5,645.5 L1234.1,645.0 L1236.7,644.6 L1239.3,644.1 L1241.8,643.6 L1244.4,643.1 L1247.0,642.6 L1249.6,642.1 L1252.2,641.6 L1254.7,641.1 L1257.3,640.6 L1259.9,640.1 L1262.5,639.6 L1265.1,639.0 L1267.6,638.5 L1270.2,638.0 L1272.8,637.5 L1275.4,637.0 L1278.0,636.4 L1280.5,635.9 L1283.1,635.4 L1285.7,634.8 L1288.3,634.3 L1290.9,633.8 L1293.4,633.2 L1296.0,632.7 L1298.6,632.1 L1301.2,631.5 L1303.8,631.0 L1306.4,630.4 L1308.9,629.9 L1311.5,629.3 L1314.1,628.7 L1316.7,628.2 L1319.3,627.6 L1321.8,627.0 L1324.4,626.4 L1327.0,625.8 L1329.6,625.2 L1332.2,624.6 L1334.7,624.0 L1337.3,623.4 L1339.9,622.8 L1342.5,622.2 L1345.1,621.6 L1347.6,621.0 L1350.2,620.4 L1352.8,619.8 L1355.4,619.1 L1358.0,618.5 L1360.5,617.9 L1363.1,617.2 L1365.7,616.6 L1368.3,615.9 L1370.9,615.3 L1373.4,614.6 L1376.0,614.0 L1378.6,613.3 L1381.2,612.6 L1383.8,612.0 L1386.3,611.3 L1388.9,610.6 L1391.5,609.9 L1394.1,609.3 L1396.7,608.6 L1399.2,607.9 L1401.8,607.2 L1404.4,606.5 L1407.0,605.8 L1409.6,605.0 L1412.1,604.3 L1414.7,603.6 L1417.3,602.9 L1419.9,602.1 L1422.5,601.4 L1425.0,600.7 L1427.6,599.9 L1430.2,599.2 L1432.8,598.4 L1435.4,597.7 L1437.9,596.9 L1440.5,596.1 L1443.1,595.4 L1445.7,594.6 L1448.3,593.8 L1450.8,593.0 L1453.4,592.2 L1456.0,591.4 L1458.6,590.6 L1461.2,589.8 L1463.7,589.0 L1466.3,588.1 L1468.9,587.3 L1471.5,586.5 L1474.1,585.6 L1476.6,584.8 L1479.2,583.9 L1481.8,583.1 L1484.4,582.2 L1487.0,581.4 L1489.5,580.5 L1492.1,579.6 L1494.7,578.7 L1497.3,577.8 L1499.9,576.9 L1502.5,576.0 L1505.0,575.1 L1507.6,574.2 L1510.2,573.3 L1512.8,572.3 L1515.4,571.4 L1517.9,570.5 L1520.5,569.5 L1523.1,568.6 L1525.7,567.6 L1528.3,566.6 L1530.8,565.6 L1533.4,564.7 L1536.0,563.7 L1538.6,562.7 L1541.2,561.7 L1543.7,560.6 L1546.3,559.6 L1548.9,558.6 L1551.5,557.6 L1554.1,556.5 L1556.6,555.5 L1559.2,554.4 L1561.8,553.3 L1564.4,552.3 L1567.0,551.2 L1569.5,550.1 L1572.1,549.0 L1574.7,547.9 L1577.3,546.8 L1579.9,545.6 L1582.4,544.5 L1585.0,543.4 L1587.6,542.2 L1590.2,541.1 L1592.8,539.9 L1595.3,538.7 L1597.9,537.5 L1600.5,536.3 L1603.1,535.1 L1605.7,533.9 L1608.2,532.7 L1610.8,531.4 L1613.4,530.2 L1616.0,528.9 L1618.6,527.7 L1621.1,526.4 L1623.7,525.1 L1626.3,523.8 L1628.9,522.5 L1631.5,521.2 L1634.0,519.9 L1636.6,518.6 L1639.2,517.2 L1641.8,515.8 L1644.4,514.5 L1646.9,513.1 L1649.5,511.7 L1652.1,510.3 L1654.7,508.9 L1657.3,507.5 L1659.8,506.0 L1662.4,504.6 L1665.0,503.1 L1667.6,501.6 L1670.2,500.1 L1672.7,498.6 L1675.3,497.1 L1677.9,495.6 L1680.5,494.1 L1683.1,492.5 L1685.6,491.0 L1688.2,489.4 L1690.8,487.8 L1693.4,486.2 L1696.0,484.6 L1698.6,482.9 L1701.1,481.3 L1703.7,479.6 L1706.3,477.9 L1708.9,476.3 L1711.5,474.5 L1714.0,472.8 L1716.6,471.1 L1719.2,469.3 L1721.8,467.6 L1724.4,465.8 L1726.9,464.0 L1729.5,462.2 L1732.1,460.3 L1734.7,458.5 L1737.3,456.6 L1739.8,454.7 L1742.4,452.8 L1745.0,450.9 L1747.6,449.0 L1750.2,447.0 L1752.7,445.1 L1755.3,443.1 L1757.9,441.1 L1760.5,439.0 L1763.1,437.0 L1765.6,434.9 L1768.2,432.8 L1770.8,430.7 L1773.4,428.6 L1776.0,426.5 L1778.5,424.3 L1781.1,422.1 L1783.7,419.9 L1786.3,417.7 L1788.9,415.4 L1791.4,413.2 L1794.0,410.9 L1796.6,408.6 L1799.2,406.2 L1801.8,403.9 L1804.3,401.5 L1806.9,399.1 L1809.5,396.6 L1812.1,394.2 L1814.7,391.7 L1817.2,389.2 L1819.8,386.7 L1822.4,384.1 L1825.0,381.5 L1827.6,378.9 L1830.1,376.3 L1832.7,373.6 L1835.3,370.9 L1837.9,368.2 L1840.5,365.5 L1843.0,362.7 L1845.6,359.9 L1848.2,357.1 L1850.8,354.2 L1853.4,351.3 L1855.9,348.4 L1858.5,345.4 L1861.1,342.5 L1863.7,339.4 L1866.3,336.4 L1868.8,333.3 L1871.4,330.2 L1874.0,327.0 L1876.6,323.9 L1879.2,320.7 L1881.7,317.4 L1884.3,314.1 L1886.9,310.8 L1889.5,307.4 L1892.1,304.0 L1894.7,300.6 L1897.2,297.1 L1899.8,293.6 L1902.4,290.1 L1905.0,286.5 L1907.6,282.9 L1910.1,279.2 L1912.7,275.5 L1915.3,271.7 L1917.9,267.9 L1920.5,264.1 L1923.0,260.2 L1925.6,256.3 L1928.2,252.3 L1930.8,248.3 L1933.4,244.2 L1935.9,240.1 L1938.5,235.9 L1941.1,231.7 L1943.7,227.4 L1946.3,223.1 L1948.8,218.8 L1951.4,214.4 L1954.0,209.9 L1956.6,205.4 L1959.2,200.8 L1961.7,196.1 L1964.3,191.5 L1966.9,186.7 L1969.5,181.9 L1972.1,177.0 L1974.6,172.1 L1977.2,167.1 L1979.8,162.1" stroke="#22bb00" stroke-width="2.6" fill="none" stroke-dasharray="12 11 12 11 12 5 2.4 5"/>
<path d="M1208.3,649.8 L1210.9,649.4 L1213.5,649.0 L1216.0,648.6 L1218.6,648.2 L1221.2,647.9 L1223.8,647.5 L1226.4,647.1 L1228.9,646.7 L1231.5,646.3 L1234.1,646.0 L1236.7,645.6 L1239.3,645.2 L1241.8,644.8 L1244.4,644.4 L1247.0,644.0 L1249.6,643.6 L1252.2,643.2 L1254.7,642.8 L1257.3,642.4 L1259.9,642.0 L1262.5,641.6 L1265.1,641.2 L1267.6,640.8 L1270.2,640.4 L1272.8,640.0 L1275.4,639.6 L1278.0,639.2 L1280.5,638.8 L1283.1,638.4 L1285.7,638.0 L1288.3,637.5 L1290.9,637.1 L1293.4,636.7 L1296.0,636.3 L1298.6,635.9 L1301.2,635.4 L1303.8,635.0 L1306.4,634.6 L1308.9,634.2 L1311.5,633.7 L1314.1,633.3 L1316.7,632.9 L1319.3,632.4 L1321.8,632.0 L1324.4,631.6 L1327.0,631.1 L1329.6,630.7 L1332.2,630.2 L1334.7,629.8 L1337.3,629.3 L1339.9,628.9 L1342.5,628.4 L1345.1,628.0 L1347.6,627.5 L1350.2,627.1 L1352.8,626.6 L1355.4,626.2 L1358.0,625.7 L1360.5,625.2 L1363.1,624.8 L1365.7,624.3 L1368.3,623.8 L1370.9,623.4 L1373.4,622.9 L1376.0,622.4 L1378.6,621.9 L1381.2,621.5 L1383.8,621.0 L1386.3,620.5 L1388.9,620.0 L1391.5,619.5 L1394.1,619.0 L1396.7,618.6 L1399.2,618.1 L1401.8,617.6 L1404.4,617.1 L1407.0,616.6 L1409.6,616.1 L1412.1,615.6 L1414.7,615.1 L1417.3,614.5 L1419.9,614.0 L1422.5,613.5 L1425.0,613.0 L1427.6,612.5 L1430.2,612.0 L1432.8,611.5 L1435.4,610.9 L1437.9,610.4 L1440.5,609.9 L1443.1,609.3 L1445.7,608.8 L1448.3,608.3 L1450.8,607.7 L1453.4,607.2 L1456.0,606.6 L1458.6,606.1 L1461.2,605.6 L1463.7,605.0 L1466.3,604.4 L1468.9,603.9 L1471.5,603.3 L1474.1,602.8 L1476.6,602.2 L1479.2,601.6 L1481.8,601.1 L1484.4,600.5 L1487.0,599.9 L1489.5,599.3 L1492.1,598.8 L1494.7,598.2 L1497.3,597.6 L1499.9,597.0 L1502.5,596.4 L1505.0,595.8 L1507.6,595.2 L1510.2,594.6 L1512.8,594.0 L1515.4,593.4 L1517.9,592.8 L1520.5,592.2 L1523.1,591.6 L1525.7,591.0 L1528.3,590.3 L1530.8,589.7 L1533.4,589.1 L1536.0,588.4 L1538.6,587.8 L1541.2,587.2 L1543.7,586.5 L1546.3,585.9 L1548.9,585.2 L1551.5,584.6 L1554.1,583.9 L1556.6,583.3 L1559.2,582.6 L1561.8,581.9 L1564.4,581.3 L1567.0,580.6 L1569.5,579.9 L1572.1,579.2 L1574.7,578.6 L1577.3,577.9 L1579.9,577.2 L1582.4,576.5 L1585.0,575.8 L1587.6,575.1 L1590.2,574.4 L1592.8,573.7 L1595.3,573.0 L1597.9,572.2 L1600.5,571.5 L1603.1,570.8 L1605.7,570.1 L1608.2,569.3 L1610.8,568.6 L1613.4,567.9 L1616.0,567.1 L1618.6,566.4 L1621.1,565.6 L1623.7,564.8 L1626.3,564.1 L1628.9,563.3 L1631.5,562.5 L1634.0,561.8 L1636.6,561.0 L1639.2,560.2 L1641.8,559.4 L1644.4,558.6 L1646.9,557.8 L1649.5,557.0 L1652.1,556.2 L1654.7,555.4 L1657.3,554.6 L1659.8,553.7 L1662.4,552.9 L1665.0,552.1 L1667.6,551.2 L1670.2,550.4 L1672.7,549.5 L1675.3,548.7 L1677.9,547.8 L1680.5,546.9 L1683.1,546.1 L1685.6,545.2 L1688.2,544.3 L1690.8,543.4 L1693.4,542.5 L1696.0,541.6 L1698.6,540.7 L1701.1,539.8 L1703.7,538.9 L1706.3,538.0 L1708.9,537.1 L1711.5,536.1 L1714.0,535.2 L1716.6,534.2 L1719.2,533.3 L1721.8,532.3 L1724.4,531.4 L1726.9,530.4 L1729.5,529.4 L1732.1,528.4 L1734.7,527.4 L1737.3,526.4 L1739.8,525.4 L1742.4,524.4 L1745.0,523.4 L1747.6,522.4 L1750.2,521.4 L1752.7,520.3 L1755.3,519.3 L1757.9,518.2 L1760.5,517.2 L1763.1,516.1 L1765.6,515.0 L1768.2,513.9 L1770.8,512.8 L1773.4,511.7 L1776.0,510.6 L1778.5,509.5 L1781.1,508.4 L1783.7,507.3 L1786.3,506.1 L1788.9,505.0 L1791.4,503.8 L1794.0,502.7 L1796.6,501.5 L1799.2,500.3 L1801.8,499.1 L1804.3,497.9 L1806.9,496.7 L1809.5,495.5 L1812.1,494.3 L1814.7,493.1 L1817.2,491.8 L1819.8,490.6 L1822.4,489.3 L1825.0,488.1 L1827.6,486.8 L1830.1,485.5 L1832.7,484.2 L1835.3,482.9 L1837.9,481.6 L1840.5,480.2 L1843.0,478.9 L1845.6,477.5 L1848.2,476.2 L1850.8,474.8 L1853.4,473.4 L1855.9,472.0 L1858.5,470.6 L1861.1,469.2 L1863.7,467.8 L1866.3,466.4 L1868.8,464.9 L1871.4,463.5 L1874.0,462.0 L1876.6,460.5 L1879.2,459.0 L1881.7,457.5 L1884.3,456.0 L1886.9,454.4 L1889.5,452.9 L1892.1,451.3 L1894.7,449.8 L1897.2,448.2 L1899.8,446.6 L1902.4,445.0 L1905.0,443.4 L1907.6,441.7 L1910.1,440.1 L1912.7,438.4 L1915.3,436.7 L1917.9,435.0 L1920.5,433.3 L1923.0,431.6 L1925.6,429.8 L1928.2,428.1 L1930.8,426.3 L1933.4,424.5 L1935.9,422.7 L1938.5,420.9 L1941.1,419.1 L1943.7,417.2 L1946.3,415.4 L1948.8,413.5 L1951.4,411.6 L1954.0,409.7 L1956.6,407.7 L1959.2,405.8 L1961.7,403.8 L1964.3,401.8 L1966.9,399.8 L1969.5,397.8 L1972.1,395.7 L1974.6,393.7 L1977.2,391.6 L1979.8,389.5" stroke="#2b12f5" stroke-width="2.6" fill="none" stroke-dasharray="12 11 12 11 12 5 2.4 5"/>
<path d="M1208.3,649.8 L1210.9,649.1 L1213.5,648.4 L1216.0,647.7 L1218.6,647.0 L1221.2,646.3 L1223.8,645.6 L1226.4,644.9 L1228.9,644.2 L1231.5,643.5 L1234.1,642.8 L1236.7,642.1 L1239.3,641.4 L1241.8,640.7 L1244.4,640.0 L1247.0,639.2 L1249.6,638.5 L1252.2,637.8 L1254.7,637.1 L1257.3,636.3 L1259.9,635.6 L1262.5,634.9 L1265.1,634.2 L1267.6,633.4 L1270.2,632.7 L1272.8,631.9 L1275.4,631.2 L1278.0,630.4 L1280.5,629.7 L1283.1,628.9 L1285.7,628.2 L1288.3,627.4 L1290.9,626.7 L1293.4,625.9 L1296.0,625.1 L1298.6,624.4 L1301.2,623.6 L1303.8,622.8 L1306.4,622.0 L1308.9,621.2 L1311.5,620.5 L1314.1,619.7 L1316.7,618.9 L1319.3,618.1 L1321.8,617.3 L1324.4,616.5 L1327.0,615.7 L1329.6,614.9 L1332.2,614.1 L1334.7,613.3 L1337.3,612.4 L1339.9,611.6 L1342.5,610.8 L1345.1,610.0 L1347.6,609.2 L1350.2,608.3 L1352.8,607.5 L1355.4,606.7 L1358.0,605.8 L1360.5,605.0 L1363.1,604.1 L1365.7,603.3 L1368.3,602.4 L1370.9,601.6 L1373.4,600.7 L1376.0,599.8 L1378.6,599.0 L1381.2,598.1 L1383.8,597.2 L1386.3,596.4 L1388.9,595.5 L1391.5,594.6 L1394.1,593.7 L1396.7,592.8 L1399.2,591.9 L1401.8,591.0 L1404.4,590.1 L1407.0,589.2 L1409.6,588.3 L1412.1,587.4 L1414.7,586.5 L1417.3,585.6 L1419.9,584.6 L1422.5,583.7 L1425.0,582.8 L1427.6,581.8 L1430.2,580.9 L1432.8,579.9 L1435.4,579.0 L1437.9,578.0 L1440.5,577.1 L1443.1,576.1 L1445.7,575.2 L1448.3,574.2 L1450.8,573.2 L1453.4,572.2 L1456.0,571.3 L1458.6,570.3 L1461.2,569.3 L1463.7,568.3 L1466.3,567.3 L1468.9,566.3 L1471.5,565.3 L1474.1,564.3 L1476.6,563.3 L1479.2,562.2 L1481.8,561.2 L1484.4,560.2 L1487.0,559.1 L1489.5,558.1 L1492.1,557.1 L1494.7,556.0 L1497.3,555.0 L1499.9,553.9 L1502.5,552.8 L1505.0,551.8 L1507.6,550.7 L1510.2,549.6 L1512.8,548.5 L1515.4,547.5 L1517.9,546.4 L1520.5,545.3 L1523.1,544.2 L1525.7,543.1 L1528.3,542.0 L1530.8,540.8 L1533.4,539.7 L1536.0,538.6 L1538.6,537.4 L1541.2,536.3 L1543.7,535.2 L1546.3,534.0 L1548.9,532.9 L1551.5,531.7 L1554.1,530.5 L1556.6,529.4 L1559.2,528.2 L1561.8,527.0 L1564.4,525.8 L1567.0,524.6 L1569.5,523.4 L1572.1,522.2 L1574.7,521.0 L1577.3,519.8 L1579.9,518.6 L1582.4,517.3 L1585.0,516.1 L1587.6,514.8 L1590.2,513.6 L1592.8,512.3 L1595.3,511.1 L1597.9,509.8 L1600.5,508.5 L1603.1,507.2 L1605.7,506.0 L1608.2,504.7 L1610.8,503.4 L1613.4,502.1 L1616.0,500.7 L1618.6,499.4 L1621.1,498.1 L1623.7,496.8 L1626.3,495.4 L1628.9,494.1 L1631.5,492.7 L1634.0,491.3 L1636.6,490.0 L1639.2,488.6 L1641.8,487.2 L1644.4,485.8 L1646.9,484.4 L1649.5,483.0 L1652.1,481.6 L1654.7,480.2 L1657.3,478.7 L1659.8,477.3 L1662.4,475.9 L1665.0,474.4 L1667.6,472.9 L1670.2,471.5 L1672.7,470.0 L1675.3,468.5 L1677.9,467.0 L1680.5,465.5 L1683.1,464.0 L1685.6,462.5 L1688.2,461.0 L1690.8,459.4 L1693.4,457.9 L1696.0,456.3 L1698.6,454.8 L1701.1,453.2 L1703.7,451.6 L1706.3,450.0 L1708.9,448.4 L1711.5,446.8 L1714.0,445.2 L1716.6,443.6 L1719.2,441.9 L1721.8,440.3 L1724.4,438.6 L1726.9,436.9 L1729.5,435.3 L1732.1,433.6 L1734.7,431.9 L1737.3,430.2 L1739.8,428.5 L1742.4,426.7 L1745.0,425.0 L1747.6,423.3 L1750.2,421.5 L1752.7,419.7 L1755.3,418.0 L1757.9,416.2 L1760.5,414.4 L1763.1,412.5 L1765.6,410.7 L1768.2,408.9 L1770.8,407.0 L1773.4,405.2 L1776.0,403.3 L1778.5,401.4 L1781.1,399.5 L1783.7,397.6 L1786.3,395.7 L1788.9,393.8 L1791.4,391.8 L1794.0,389.9 L1796.6,387.9 L1799.2,385.9 L1801.8,384.0 L1804.3,382.0 L1806.9,379.9 L1809.5,377.9 L1812.1,375.9 L1814.7,373.8 L1817.2,371.7 L1819.8,369.6 L1822.4,367.5 L1825.0,365.4 L1827.6,363.3 L1830.1,361.2 L1832.7,359.0 L1835.3,356.8 L1837.9,354.7 L1840.5,352.5 L1843.0,350.2 L1845.6,348.0 L1848.2,345.8 L1850.8,343.5 L1853.4,341.2 L1855.9,338.9 L1858.5,336.6 L1861.1,334.3 L1863.7,332.0 L1866.3,329.6 L1868.8,327.2 L1871.4,324.9 L1874.0,322.4 L1876.6,320.0 L1879.2,317.6 L1881.7,315.1 L1884.3,312.7 L1886.9,310.2 L1889.5,307.6 L1892.1,305.1 L1894.7,302.6 L1897.2,300.0 L1899.8,297.4 L1902.4,294.8 L1905.0,292.2 L1907.6,289.5 L1910.1,286.9 L1912.7,284.2 L1915.3,281.5 L1917.9,278.8 L1920.5,276.0 L1923.0,273.3 L1925.6,270.5 L1928.2,267.7 L1930.8,264.9 L1933.4,262.0 L1935.9,259.1 L1938.5,256.2 L1941.1,253.3 L1943.7,250.4 L1946.3,247.4 L1948.8,244.5 L1951.4,241.4 L1954.0,238.4 L1956.6,235.4 L1959.2,232.3 L1961.7,229.2 L1964.3,226.1 L1966.9,222.9 L1969.5,219.7 L1972.1,216.5 L1974.6,213.3 L1977.2,210.0 L1979.8,206.8" stroke="#1440ff" stroke-width="2.6" fill="none" stroke-dasharray="12 11 12 11 12 5 2.4 5"/>
<path d="M1217.6,647.2L1227.6,644.5M1244.3,640.1L1254.2,637.4M1270.9,632.6L1280.8,629.6M1297.5,624.5L1307.4,621.3M1324.1,616.0L1334.0,612.8M1350.6,607.2L1360.6,603.7M1377.2,597.7L1387.3,594.0M1403.8,587.7L1413.9,584.0M1430.4,577.6L1440.7,573.5M1457.2,566.7L1467.3,562.5M1483.8,555.3L1493.9,550.7M1510.3,543.0L1520.7,538.1M1537.1,530.0L1547.3,524.7M1563.7,516.1L1573.9,510.6M1590.2,501.5L1600.4,495.7M1616.7,486.0L1626.9,479.8M1643.1,469.5L1653.2,462.9M1669.4,451.9L1680.2,444.4M1696.3,432.7L1706.8,424.9M1722.8,412.3L1733.4,403.8M1749.3,390.6L1760.0,381.6M1775.8,367.3L1786.4,357.3M1802.2,342.0L1813.2,331.1M1828.4,315.3L1840.4,302.4M1854.4,286.5L1867.5,271.1M1880.5,255.1L1894.5,237.3M1906.6,221.2L1921.6,200.3M1932.7,184.2L1948.6,160.3M1958.9,144.0L1975.8,116.3" stroke="#dc0008" stroke-width="4.6" stroke-linecap="round" fill="none"/>
<g fill="#dc0008"><rect x="1201.7" y="643.0" width="13.2" height="13.2" rx="1"/><rect x="1228.4" y="636.0" width="13.2" height="13.2" rx="1"/><rect x="1255.0" y="628.8" width="13.2" height="13.2" rx="1"/><rect x="1281.6" y="620.8" width="13.2" height="13.2" rx="1"/><rect x="1308.2" y="612.4" width="13.2" height="13.2" rx="1"/><rect x="1334.8" y="603.8" width="13.2" height="13.2" rx="1"/><rect x="1361.4" y="594.6" width="13.2" height="13.2" rx="1"/><rect x="1388.0" y="584.6" width="13.2" height="13.2" rx="1"/><rect x="1414.6" y="574.6" width="13.2" height="13.2" rx="1"/><rect x="1441.4" y="564.0" width="13.2" height="13.2" rx="1"/><rect x="1468.0" y="552.8" width="13.2" height="13.2" rx="1"/><rect x="1494.6" y="540.8" width="13.2" height="13.2" rx="1"/><rect x="1521.4" y="528.0" width="13.2" height="13.2" rx="1"/><rect x="1548.0" y="514.4" width="13.2" height="13.2" rx="1"/><rect x="1574.6" y="500.0" width="13.2" height="13.2" rx="1"/><rect x="1601.1" y="484.9" width="13.2" height="13.2" rx="1"/><rect x="1627.6" y="468.8" width="13.2" height="13.2" rx="1"/><rect x="1653.9" y="451.5" width="13.2" height="13.2" rx="1"/><rect x="1680.9" y="432.8" width="13.2" height="13.2" rx="1"/><rect x="1707.4" y="412.8" width="13.2" height="13.2" rx="1"/><rect x="1734.0" y="391.4" width="13.2" height="13.2" rx="1"/><rect x="1760.6" y="368.9" width="13.2" height="13.2" rx="1"/><rect x="1787.0" y="343.9" width="13.2" height="13.2" rx="1"/><rect x="1813.8" y="317.4" width="13.2" height="13.2" rx="1"/><rect x="1840.4" y="288.6" width="13.2" height="13.2" rx="1"/><rect x="1867.0" y="257.3" width="13.2" height="13.2" rx="1"/><rect x="1893.6" y="223.5" width="13.2" height="13.2" rx="1"/><rect x="1920.2" y="186.5" width="13.2" height="13.2" rx="1"/><rect x="1946.8" y="146.4" width="13.2" height="13.2" rx="1"/><rect x="1973.6" y="102.4" width="13.2" height="13.2" rx="1"/></g>
<rect x="1208.30" y="13.50" width="787.20" height="636.25" fill="none" stroke="#000" stroke-width="2.6"/>
<path d="M1208.30,649.75v12.3M1362.60,649.75v12.3M1516.90,649.75v12.3M1671.20,649.75v12.3M1825.50,649.75v12.3M1979.80,649.75v12.3M1285.45,649.75v6.3M1439.75,649.75v6.3M1594.05,649.75v6.3M1748.35,649.75v6.3M1902.65,649.75v6.3M1208.30,649.75h-12.3M1208.30,543.71h-12.3M1208.30,437.67h-12.3M1208.30,331.63h-12.3M1208.30,225.59h-12.3M1208.30,119.55h-12.3M1208.30,13.51h-12.3M1208.30,596.73h-6.3M1208.30,490.69h-6.3M1208.30,384.65h-6.3M1208.30,278.61h-6.3M1208.30,172.57h-6.3M1208.30,66.53h-6.3" stroke="#000" stroke-width="2.6" fill="none"/>
<g font-size="36" fill="#000">
<text x="1208.3" y="699.4" text-anchor="middle">0.0</text>
<text x="1362.6" y="699.4" text-anchor="middle">0.1</text>
<text x="1516.9" y="699.4" text-anchor="middle">0.2</text>
<text x="1671.2" y="699.4" text-anchor="middle">0.3</text>
<text x="1825.5" y="699.4" text-anchor="middle">0.4</text>
<text x="1979.8" y="699.4" text-anchor="middle">0.5</text>
<text x="1187.3" y="661.0" text-anchor="end">0.00</text>
<text x="1187.3" y="555.0" text-anchor="end">0.02</text>
<text x="1187.3" y="449.0" text-anchor="end">0.04</text>
<text x="1187.3" y="342.9" text-anchor="end">0.06</text>
<text x="1187.3" y="236.9" text-anchor="end">0.08</text>
<text x="1187.3" y="130.8" text-anchor="end">0.10</text>
<text x="1187.3" y="24.8" text-anchor="end">0.12</text>
</g>
<g fill="#dc0008"><rect x="1201.7" y="643.0" width="13.2" height="13.2" rx="1"/></g>
<line x1="1244.9499999999998" y1="60.9" x2="1318.25" y2="60.9" stroke="#505050" stroke-width="4.7" stroke-linecap="round"/>
<path d="M1245.1,101.4h19.5M1292.6,101.4h19.5" stroke="#41a4f5" stroke-width="5" stroke-linecap="round" fill="none"/>
<circle cx="1281.8999999999999" cy="101.4" r="1.3" fill="#41a4f5"/>
<path d="M1244.1999999999998,141.9h12.4M1268.6,141.9h14.5M1293.1,141.9h13" stroke="#22bb00" stroke-width="2.5" fill="none"/>
<path d="M1244.1999999999998,182.6h12.4M1268.6,182.6h14.5M1293.1,182.6h13" stroke="#2b12f5" stroke-width="2.5" fill="none"/>
<path d="M1244.1999999999998,223.3h12.4M1268.6,223.3h14.5M1293.1,223.3h13" stroke="#1440ff" stroke-width="2.5" fill="none"/>
<line x1="1245.3999999999999" y1="263.6" x2="1317.8" y2="263.6" stroke="#dc0008" stroke-width="4.6" stroke-linecap="round"/>
<rect x="1275.4" y="257.0" width="13.2" height="13.2" rx="1" fill="#dc0008"/>
<g font-size="32.8" fill="#000">
<text x="1327.2" y="71.4">Compression test data</text>
<text x="1327.2" y="112.3">Ogden model,N=3</text>
<text x="1327.2" y="152.2">Mooney-Rivlin model</text>
<text x="1327.2" y="193.3">Neo-Hooke model</text>
<text x="1327.2" y="234.2">Yeoh model</text>
<text x="1327.2" y="274.5">Anssari-Benam model</text>
</g>
<text x="1602" y="760.5" font-size="39" text-anchor="middle">Engineering Strain (100%)</text>
<text transform="translate(1108.7,331.8) rotate(-90)" font-size="39" text-anchor="middle">Engineering Stress (MPa)</text>
<text x="1623" y="825" font-size="49" text-anchor="middle">(b)</text>
</g>
<g id="chart-c">
<clipPath id="clipc"><rect x="663.6" y="953.1" width="786.9999999999999" height="636.9"/></clipPath>
<path d="M663.6,1590.0 L666.2,1578.2 L668.7,1566.2 L671.3,1554.0 L673.9,1540.9 L676.4,1528.7 L679.0,1519.0 L681.5,1510.8 L684.1,1503.3 L686.7,1495.8 L689.2,1488.5 L691.8,1481.5 L694.4,1474.8 L696.9,1468.5 L699.5,1462.6 L702.0,1457.0 L704.6,1451.8 L707.2,1446.8 L709.7,1442.3 L712.3,1438.3 L714.9,1434.5 L717.4,1430.9 L720.0,1427.5 L722.5,1424.3 L725.1,1421.3 L727.7,1418.4 L730.2,1415.5 L732.8,1412.8 L735.4,1410.2 L737.9,1407.8 L740.5,1405.6 L743.0,1403.5 L745.6,1401.7 L748.2,1399.9 L750.7,1398.3 L753.3,1396.8 L755.9,1395.3 L758.4,1393.8 L761.0,1392.3 L763.5,1390.7 L766.1,1389.2 L768.7,1387.7 L771.2,1386.2 L773.8,1384.8 L776.4,1383.4 L778.9,1382.1 L781.5,1380.9 L784.0,1379.7 L786.6,1378.5 L789.2,1377.4 L791.7,1376.3 L794.3,1375.3 L796.9,1374.3 L799.4,1373.3 L802.0,1372.3 L804.5,1371.4 L807.1,1370.4 L809.7,1369.5 L812.2,1368.7 L814.8,1367.8 L817.4,1367.0 L819.9,1366.3 L822.5,1365.5 L825.0,1364.8 L827.6,1364.2 L830.2,1363.5 L832.7,1362.9 L835.3,1362.3 L837.9,1361.6 L840.4,1361.0 L843.0,1360.4 L845.5,1359.9 L848.1,1359.3 L850.7,1358.7 L853.2,1358.2 L855.8,1357.6 L858.4,1357.1 L860.9,1356.5 L863.5,1356.0 L866.0,1355.5 L868.6,1354.9 L871.2,1354.3 L873.7,1353.8 L876.3,1353.2 L878.9,1352.6 L881.4,1351.9 L884.0,1351.3 L886.5,1350.8 L889.1,1350.2 L891.7,1349.6 L894.2,1349.1 L896.8,1348.6 L899.4,1348.1 L901.9,1347.6 L904.5,1347.1 L907.0,1346.6 L909.6,1346.1 L912.2,1345.6 L914.7,1345.1 L917.3,1344.6 L919.9,1344.1 L922.4,1343.5 L925.0,1343.0 L927.5,1342.5 L930.1,1342.0 L932.7,1341.4 L935.2,1340.9 L937.8,1340.3 L940.4,1339.7 L942.9,1339.1 L945.5,1338.5 L948.0,1338.0 L950.6,1337.5 L953.2,1337.0 L955.7,1336.5 L958.3,1336.0 L960.9,1335.6 L963.4,1335.1 L966.0,1334.7 L968.5,1334.3 L971.1,1333.8 L973.7,1333.4 L976.2,1332.9 L978.8,1332.4 L981.4,1332.0 L983.9,1331.6 L986.5,1331.1 L989.0,1330.7 L991.6,1330.4 L994.2,1330.0 L996.7,1329.7 L999.3,1329.4 L1001.9,1329.1 L1004.4,1328.8 L1007.0,1328.4 L1009.5,1328.1 L1012.1,1327.7 L1014.7,1327.2 L1017.2,1326.8 L1019.8,1326.3 L1022.4,1325.8 L1024.9,1325.3 L1027.5,1324.9 L1030.0,1324.4 L1032.6,1324.0 L1035.2,1323.5 L1037.7,1323.1 L1040.3,1322.7 L1042.9,1322.3 L1045.4,1321.8 L1048.0,1321.4 L1050.5,1320.9 L1053.1,1320.4 L1055.7,1319.8 L1058.2,1319.2 L1060.8,1318.6 L1063.4,1317.9 L1065.9,1317.3 L1068.5,1316.7 L1071.0,1316.1 L1073.6,1315.6 L1076.2,1315.0 L1078.7,1314.5 L1081.3,1314.0 L1083.9,1313.5 L1086.4,1313.0 L1089.0,1312.6 L1091.5,1312.1 L1094.1,1311.6 L1096.7,1311.2 L1099.2,1310.7 L1101.8,1310.2 L1104.4,1309.8 L1106.9,1309.3 L1109.5,1308.9 L1112.0,1308.4 L1114.6,1307.9 L1117.2,1307.4 L1119.7,1306.9 L1122.3,1306.4 L1124.9,1305.9 L1127.4,1305.4 L1130.0,1304.9 L1132.5,1304.4 L1135.1,1303.9 L1137.7,1303.4 L1140.2,1302.8 L1142.8,1302.3 L1145.4,1301.8 L1147.9,1301.3 L1150.5,1300.7 L1153.0,1300.2 L1155.6,1299.7 L1158.2,1299.1 L1160.7,1298.6 L1163.3,1298.1 L1165.9,1297.5 L1168.4,1297.0 L1171.0,1296.5 L1173.5,1295.9 L1176.1,1295.4 L1178.7,1294.9 L1181.2,1294.3 L1183.8,1293.8 L1186.4,1293.3 L1188.9,1292.7 L1191.5,1292.2 L1194.0,1291.7 L1196.6,1291.1 L1199.2,1290.6 L1201.7,1290.0 L1204.3,1289.5 L1206.9,1288.9 L1209.4,1288.4 L1212.0,1287.8 L1214.5,1287.2 L1217.1,1286.7 L1219.7,1286.1 L1222.2,1285.5 L1224.8,1284.9 L1227.4,1284.3 L1229.9,1283.8 L1232.5,1283.2 L1235.0,1282.6 L1237.6,1282.0 L1240.2,1281.4 L1242.7,1280.8 L1245.3,1280.2 L1247.9,1279.6 L1250.4,1279.0 L1253.0,1278.3 L1255.5,1277.7 L1258.1,1277.1 L1260.7,1276.5 L1263.2,1275.9 L1265.8,1275.3 L1268.4,1274.6 L1270.9,1274.0 L1273.5,1273.4 L1276.0,1272.7 L1278.6,1272.1 L1281.2,1271.4 L1283.7,1270.8 L1286.3,1270.2 L1288.9,1269.5 L1291.4,1268.9 L1294.0,1268.2 L1296.5,1267.5 L1299.1,1266.9 L1301.7,1266.2 L1304.2,1265.5 L1306.8,1264.9 L1309.4,1264.2 L1311.9,1263.5 L1314.5,1262.8 L1317.0,1262.1 L1319.6,1261.4 L1322.2,1260.7 L1324.7,1260.0 L1327.3,1259.3 L1329.9,1258.6 L1332.4,1257.9 L1335.0,1257.2 L1337.5,1256.5 L1340.1,1255.7 L1342.7,1255.0 L1345.2,1254.3 L1347.8,1253.6 L1350.4,1252.8 L1352.9,1252.1 L1355.5,1251.3 L1358.0,1250.6 L1360.6,1249.8 L1363.2,1249.1 L1365.7,1248.3 L1368.3,1247.5 L1370.9,1246.7 L1373.4,1246.0 L1376.0,1245.2 L1378.5,1244.4 L1381.1,1243.6 L1383.7,1242.8 L1386.2,1242.0 L1388.8,1241.2 L1391.4,1240.4 L1393.9,1239.6 L1396.5,1238.8 L1399.0,1238.0 L1401.6,1237.2 L1404.2,1236.3 L1406.7,1235.5 L1409.3,1234.7 L1411.9,1233.9 L1414.4,1233.0 L1417.0,1232.2 L1419.5,1231.3 L1422.1,1230.5 L1424.7,1229.6 L1427.2,1228.8 L1429.8,1227.9" stroke="#000" stroke-width="5" stroke-linecap="round" stroke-linejoin="round" fill="none"/>
<path d="M663.6,1589.5 L666.2,1580.6 L668.8,1572.0 L671.3,1563.8 L673.9,1555.8 L676.5,1548.3 L679.1,1541.0 L681.7,1534.2 L684.3,1527.7 L686.8,1521.4 L689.4,1515.4 L692.0,1509.7 L694.6,1504.1 L697.2,1498.8 L699.8,1493.6 L702.3,1488.6 L704.9,1483.8 L707.5,1479.1 L710.1,1474.7 L712.7,1470.5 L715.3,1466.5 L717.8,1462.7 L720.4,1459.0 L723.0,1455.4 L725.6,1451.9 L728.2,1448.6 L730.7,1445.4 L733.3,1442.3 L735.9,1439.3 L738.5,1436.4 L741.1,1433.7 L743.7,1431.0 L746.2,1428.5 L748.8,1426.1 L751.4,1423.7 L754.0,1421.4 L756.6,1419.2 L759.2,1417.1 L761.7,1415.0 L764.3,1413.0 L766.9,1411.0 L769.5,1409.1 L772.1,1407.2 L774.7,1405.4 L777.2,1403.7 L779.8,1402.0 L782.4,1400.4 L785.0,1398.8 L787.6,1397.2 L790.1,1395.7 L792.7,1394.2 L795.3,1392.7 L797.9,1391.3 L800.5,1389.9 L803.1,1388.5 L805.6,1387.2 L808.2,1386.0 L810.8,1384.8 L813.4,1383.7 L816.0,1382.6 L818.6,1381.4 L821.1,1380.3 L823.7,1379.2 L826.3,1378.1 L828.9,1376.9 L831.5,1375.8 L834.1,1374.8 L836.6,1373.7 L839.2,1372.8 L841.8,1371.9 L844.4,1371.0 L847.0,1370.1 L849.5,1369.2 L852.1,1368.4 L854.7,1367.7 L857.3,1366.9 L859.9,1366.2 L862.5,1365.5 L865.0,1364.8 L867.6,1364.0 L870.2,1363.3 L872.8,1362.5 L875.4,1361.8 L878.0,1361.0 L880.5,1360.3 L883.1,1359.6 L885.7,1358.9 L888.3,1358.3 L890.9,1357.7 L893.5,1357.1 L896.0,1356.6 L898.6,1356.0 L901.2,1355.4 L903.8,1354.7 L906.4,1354.1 L908.9,1353.5 L911.5,1352.8 L914.1,1352.2 L916.7,1351.7 L919.3,1351.1 L921.9,1350.6 L924.4,1350.1 L927.0,1349.6 L929.6,1349.1 L932.2,1348.6 L934.8,1348.1 L937.4,1347.6 L939.9,1347.1 L942.5,1346.6 L945.1,1346.1 L947.7,1345.7 L950.3,1345.2 L952.9,1344.7 L955.4,1344.2 L958.0,1343.8 L960.6,1343.3 L963.2,1342.8 L965.8,1342.4 L968.3,1341.9 L970.9,1341.4 L973.5,1341.0 L976.1,1340.5 L978.7,1340.1 L981.3,1339.6 L983.8,1339.2 L986.4,1338.8 L989.0,1338.4 L991.6,1338.0 L994.2,1337.6 L996.8,1337.1 L999.3,1336.7 L1001.9,1336.3 L1004.5,1336.0 L1007.1,1335.6 L1009.7,1335.2 L1012.3,1334.8 L1014.8,1334.4 L1017.4,1334.0 L1020.0,1333.6 L1022.6,1333.1 L1025.2,1332.7 L1027.7,1332.3 L1030.3,1331.9 L1032.9,1331.5 L1035.5,1331.1 L1038.1,1330.6 L1040.7,1330.2 L1043.2,1329.7 L1045.8,1329.2 L1048.4,1328.7 L1051.0,1328.2 L1053.6,1327.7 L1056.2,1327.3 L1058.7,1326.8 L1061.3,1326.4 L1063.9,1326.0 L1066.5,1325.6 L1069.1,1325.1 L1071.7,1324.7 L1074.2,1324.3 L1076.8,1323.9 L1079.4,1323.5 L1082.0,1323.0 L1084.6,1322.6 L1087.1,1322.2 L1089.7,1321.7 L1092.3,1321.3 L1094.9,1320.9 L1097.5,1320.5 L1100.1,1320.0 L1102.6,1319.6 L1105.2,1319.1 L1107.8,1318.7 L1110.4,1318.2 L1113.0,1317.7 L1115.6,1317.1 L1118.1,1316.6 L1120.7,1316.1 L1123.3,1315.6 L1125.9,1315.1 L1128.5,1314.6 L1131.1,1314.1 L1133.6,1313.5 L1136.2,1313.0 L1138.8,1312.5 L1141.4,1312.0 L1144.0,1311.5 L1146.5,1311.0 L1149.1,1310.5 L1151.7,1310.0 L1154.3,1309.4 L1156.9,1308.9 L1159.5,1308.3 L1162.0,1307.8 L1164.6,1307.2 L1167.2,1306.7 L1169.8,1306.1 L1172.4,1305.6 L1175.0,1305.0 L1177.5,1304.4 L1180.1,1303.9 L1182.7,1303.3 L1185.3,1302.8 L1187.9,1302.2 L1190.5,1301.6 L1193.0,1301.1 L1195.6,1300.5 L1198.2,1299.9 L1200.8,1299.3 L1203.4,1298.6 L1205.9,1298.0 L1208.5,1297.3 L1211.1,1296.6 L1213.7,1295.9 L1216.3,1295.3 L1218.9,1294.6 L1221.4,1294.0 L1224.0,1293.3 L1226.6,1292.6 L1229.2,1292.0 L1231.8,1291.3 L1234.4,1290.7 L1236.9,1290.0 L1239.5,1289.4 L1242.1,1288.7 L1244.7,1288.0 L1247.3,1287.3 L1249.9,1286.7 L1252.4,1286.0 L1255.0,1285.2 L1257.6,1284.5 L1260.2,1283.8 L1262.8,1283.1 L1265.3,1282.4 L1267.9,1281.7 L1270.5,1281.0 L1273.1,1280.3 L1275.7,1279.6 L1278.3,1278.9 L1280.8,1278.1 L1283.4,1277.4 L1286.0,1276.6 L1288.6,1275.8 L1291.2,1275.0 L1293.8,1274.2 L1296.3,1273.5 L1298.9,1272.6 L1301.5,1271.8 L1304.1,1271.0 L1306.7,1270.2 L1309.3,1269.3 L1311.8,1268.5 L1314.4,1267.6 L1317.0,1266.8 L1319.6,1265.9 L1322.2,1265.0 L1324.7,1264.1 L1327.3,1263.2 L1329.9,1262.3 L1332.5,1261.4 L1335.1,1260.5 L1337.7,1259.6 L1340.2,1258.6 L1342.8,1257.6 L1345.4,1256.6 L1348.0,1255.5 L1350.6,1254.4 L1353.2,1253.4 L1355.7,1252.3 L1358.3,1251.2 L1360.9,1250.1 L1363.5,1249.1 L1366.1,1248.0 L1368.7,1246.8 L1371.2,1245.7 L1373.8,1244.5 L1376.4,1243.3 L1379.0,1242.0 L1381.6,1240.7 L1384.1,1239.4 L1386.7,1238.1 L1389.3,1236.8 L1391.9,1235.5 L1394.5,1234.1 L1397.1,1232.8 L1399.6,1231.4 L1402.2,1229.9 L1404.8,1228.5 L1407.4,1227.0 L1410.0,1225.4 L1412.6,1223.9 L1415.1,1222.3 L1417.7,1220.6 L1420.3,1218.9 L1422.9,1217.1 L1425.5,1215.3 L1428.1,1213.5 L1430.6,1211.6 L1433.2,1209.7 L1435.8,1207.7" stroke="#41a4f5" stroke-width="5" stroke-linecap="round" fill="none" stroke-dasharray="17 30" stroke-dashoffset="41.5"/>
<path d="M663.6,1589.5 L666.2,1580.6 L668.8,1572.0 L671.3,1563.8 L673.9,1555.8 L676.5,1548.3 L679.1,1541.0 L681.7,1534.2 L684.3,1527.7 L686.8,1521.4 L689.4,1515.4 L692.0,1509.7 L694.6,1504.1 L697.2,1498.8 L699.8,1493.6 L702.3,1488.6 L704.9,1483.8 L707.5,1479.1 L710.1,1474.7 L712.7,1470.5 L715.3,1466.5 L717.8,1462.7 L720.4,1459.0 L723.0,1455.4 L725.6,1451.9 L728.2,1448.6 L730.7,1445.4 L733.3,1442.3 L735.9,1439.3 L738.5,1436.4 L741.1,1433.7 L743.7,1431.0 L746.2,1428.5 L748.8,1426.1 L751.4,1423.7 L754.0,1421.4 L756.6,1419.2 L759.2,1417.1 L761.7,1415.0 L764.3,1413.0 L766.9,1411.0 L769.5,1409.1 L772.1,1407.2 L774.7,1405.4 L777.2,1403.7 L779.8,1402.0 L782.4,1400.4 L785.0,1398.8 L787.6,1397.2 L790.1,1395.7 L792.7,1394.2 L795.3,1392.7 L797.9,1391.3 L800.5,1389.9 L803.1,1388.5 L805.6,1387.2 L808.2,1386.0 L810.8,1384.8 L813.4,1383.7 L816.0,1382.6 L818.6,1381.4 L821.1,1380.3 L823.7,1379.2 L826.3,1378.1 L828.9,1376.9 L831.5,1375.8 L834.1,1374.8 L836.6,1373.7 L839.2,1372.8 L841.8,1371.9 L844.4,1371.0 L847.0,1370.1 L849.5,1369.2 L852.1,1368.4 L854.7,1367.7 L857.3,1366.9 L859.9,1366.2 L862.5,1365.5 L865.0,1364.8 L867.6,1364.0 L870.2,1363.3 L872.8,1362.5 L875.4,1361.8 L878.0,1361.0 L880.5,1360.3 L883.1,1359.6 L885.7,1358.9 L888.3,1358.3 L890.9,1357.7 L893.5,1357.1 L896.0,1356.6 L898.6,1356.0 L901.2,1355.4 L903.8,1354.7 L906.4,1354.1 L908.9,1353.5 L911.5,1352.8 L914.1,1352.2 L916.7,1351.7 L919.3,1351.1 L921.9,1350.6 L924.4,1350.1 L927.0,1349.6 L929.6,1349.1 L932.2,1348.6 L934.8,1348.1 L937.4,1347.6 L939.9,1347.1 L942.5,1346.6 L945.1,1346.1 L947.7,1345.7 L950.3,1345.2 L952.9,1344.7 L955.4,1344.2 L958.0,1343.8 L960.6,1343.3 L963.2,1342.8 L965.8,1342.4 L968.3,1341.9 L970.9,1341.4 L973.5,1341.0 L976.1,1340.5 L978.7,1340.1 L981.3,1339.6 L983.8,1339.2 L986.4,1338.8 L989.0,1338.4 L991.6,1338.0 L994.2,1337.6 L996.8,1337.1 L999.3,1336.7 L1001.9,1336.3 L1004.5,1336.0 L1007.1,1335.6 L1009.7,1335.2 L1012.3,1334.8 L1014.8,1334.4 L1017.4,1334.0 L1020.0,1333.6 L1022.6,1333.1 L1025.2,1332.7 L1027.7,1332.3 L1030.3,1331.9 L1032.9,1331.5 L1035.5,1331.1 L1038.1,1330.6 L1040.7,1330.2 L1043.2,1329.7 L1045.8,1329.2 L1048.4,1328.7 L1051.0,1328.2 L1053.6,1327.7 L1056.2,1327.3 L1058.7,1326.8 L1061.3,1326.4 L1063.9,1326.0 L1066.5,1325.6 L1069.1,1325.1 L1071.7,1324.7 L1074.2,1324.3 L1076.8,1323.9 L1079.4,1323.5 L1082.0,1323.0 L1084.6,1322.6 L1087.1,1322.2 L1089.7,1321.7 L1092.3,1321.3 L1094.9,1320.9 L1097.5,1320.5 L1100.1,1320.0 L1102.6,1319.6 L1105.2,1319.1 L1107.8,1318.7 L1110.4,1318.2 L1113.0,1317.7 L1115.6,1317.1 L1118.1,1316.6 L1120.7,1316.1 L1123.3,1315.6 L1125.9,1315.1 L1128.5,1314.6 L1131.1,1314.1 L1133.6,1313.5 L1136.2,1313.0 L1138.8,1312.5 L1141.4,1312.0 L1144.0,1311.5 L1146.5,1311.0 L1149.1,1310.5 L1151.7,1310.0 L1154.3,1309.4 L1156.9,1308.9 L1159.5,1308.3 L1162.0,1307.8 L1164.6,1307.2 L1167.2,1306.7 L1169.8,1306.1 L1172.4,1305.6 L1175.0,1305.0 L1177.5,1304.4 L1180.1,1303.9 L1182.7,1303.3 L1185.3,1302.8 L1187.9,1302.2 L1190.5,1301.6 L1193.0,1301.1 L1195.6,1300.5 L1198.2,1299.9 L1200.8,1299.3 L1203.4,1298.6 L1205.9,1298.0 L1208.5,1297.3 L1211.1,1296.6 L1213.7,1295.9 L1216.3,1295.3 L1218.9,1294.6 L1221.4,1294.0 L1224.0,1293.3 L1226.6,1292.6 L1229.2,1292.0 L1231.8,1291.3 L1234.4,1290.7 L1236.9,1290.0 L1239.5,1289.4 L1242.1,1288.7 L1244.7,1288.0 L1247.3,1287.3 L1249.9,1286.7 L1252.4,1286.0 L1255.0,1285.2 L1257.6,1284.5 L1260.2,1283.8 L1262.8,1283.1 L1265.3,1282.4 L1267.9,1281.7 L1270.5,1281.0 L1273.1,1280.3 L1275.7,1279.6 L1278.3,1278.9 L1280.8,1278.1 L1283.4,1277.4 L1286.0,1276.6 L1288.6,1275.8 L1291.2,1275.0 L1293.8,1274.2 L1296.3,1273.5 L1298.9,1272.6 L1301.5,1271.8 L1304.1,1271.0 L1306.7,1270.2 L1309.3,1269.3 L1311.8,1268.5 L1314.4,1267.6 L1317.0,1266.8 L1319.6,1265.9 L1322.2,1265.0 L1324.7,1264.1 L1327.3,1263.2 L1329.9,1262.3 L1332.5,1261.4 L1335.1,1260.5 L1337.7,1259.6 L1340.2,1258.6 L1342.8,1257.6 L1345.4,1256.6 L1348.0,1255.5 L1350.6,1254.4 L1353.2,1253.4 L1355.7,1252.3 L1358.3,1251.2 L1360.9,1250.1 L1363.5,1249.1 L1366.1,1248.0 L1368.7,1246.8 L1371.2,1245.7 L1373.8,1244.5 L1376.4,1243.3 L1379.0,1242.0 L1381.6,1240.7 L1384.1,1239.4 L1386.7,1238.1 L1389.3,1236.8 L1391.9,1235.5 L1394.5,1234.1 L1397.1,1232.8 L1399.6,1231.4 L1402.2,1229.9 L1404.8,1228.5 L1407.4,1227.0 L1410.0,1225.4 L1412.6,1223.9 L1415.1,1222.3 L1417.7,1220.6 L1420.3,1218.9 L1422.9,1217.1 L1425.5,1215.3 L1428.1,1213.5 L1430.6,1211.6 L1433.2,1209.7 L1435.8,1207.7" stroke="#ff2020" stroke-width="2.2" fill="none" stroke-dasharray="0 31 2.2 13.8" stroke-dashoffset="41.5"/>
<g clip-path="url(#clipc)">
<path d="M663.6,1590.0 L666.2,1584.0 L668.8,1578.3 L671.3,1572.9 L673.9,1567.7 L676.5,1562.7 L679.1,1558.0 L681.7,1553.4 L684.2,1549.0 L686.8,1544.7 L689.4,1540.7 L692.0,1536.7 L694.6,1532.9 L697.2,1529.2 L699.7,1525.7 L702.3,1522.2 L704.9,1518.8 L707.5,1515.6 L710.1,1512.4 L712.6,1509.3 L715.2,1506.3 L717.8,1503.3 L720.4,1500.5 L723.0,1497.6 L725.5,1494.9 L728.1,1492.2 L730.7,1489.6 L733.3,1487.0 L735.9,1484.4 L738.5,1481.9 L741.0,1479.5 L743.6,1477.0 L746.2,1474.7 L748.8,1472.3 L751.4,1470.0 L753.9,1467.7 L756.5,1465.5 L759.1,1463.3 L761.7,1461.1 L764.3,1458.9 L766.8,1456.8 L769.4,1454.7 L772.0,1452.6 L774.6,1450.5 L777.2,1448.5 L779.7,1446.4 L782.3,1444.4 L784.9,1442.4 L787.5,1440.5 L790.1,1438.5 L792.7,1436.6 L795.2,1434.6 L797.8,1432.7 L800.4,1430.8 L803.0,1428.9 L805.6,1427.0 L808.1,1425.2 L810.7,1423.3 L813.3,1421.5 L815.9,1419.7 L818.5,1417.8 L821.0,1416.0 L823.6,1414.2 L826.2,1412.4 L828.8,1410.6 L831.4,1408.9 L834.0,1407.1 L836.5,1405.3 L839.1,1403.6 L841.7,1401.8 L844.3,1400.1 L846.9,1398.3 L849.4,1396.6 L852.0,1394.9 L854.6,1393.2 L857.2,1391.5 L859.8,1389.7 L862.3,1388.0 L864.9,1386.3 L867.5,1384.7 L870.1,1383.0 L872.7,1381.3 L875.3,1379.6 L877.8,1377.9 L880.4,1376.3 L883.0,1374.6 L885.6,1372.9 L888.2,1371.3 L890.7,1369.6 L893.3,1367.9 L895.9,1366.3 L898.5,1364.7 L901.1,1363.0 L903.6,1361.4 L906.2,1359.7 L908.8,1358.1 L911.4,1356.5 L914.0,1354.8 L916.5,1353.2 L919.1,1351.6 L921.7,1349.9 L924.3,1348.3 L926.9,1346.7 L929.5,1345.1 L932.0,1343.5 L934.6,1341.9 L937.2,1340.3 L939.8,1338.6 L942.4,1337.0 L944.9,1335.4 L947.5,1333.8 L950.1,1332.2 L952.7,1330.6 L955.3,1329.0 L957.8,1327.4 L960.4,1325.8 L963.0,1324.2 L965.6,1322.6 L968.2,1321.1 L970.8,1319.5 L973.3,1317.9 L975.9,1316.3 L978.5,1314.7 L981.1,1313.1 L983.7,1311.5 L986.2,1309.9 L988.8,1308.4 L991.4,1306.8 L994.0,1305.2 L996.6,1303.6 L999.1,1302.0 L1001.7,1300.5 L1004.3,1298.9 L1006.9,1297.3 L1009.5,1295.7 L1012.0,1294.2 L1014.6,1292.6 L1017.2,1291.0 L1019.8,1289.5 L1022.4,1287.9 L1025.0,1286.3 L1027.5,1284.7 L1030.1,1283.2 L1032.7,1281.6 L1035.3,1280.0 L1037.9,1278.5 L1040.4,1276.9 L1043.0,1275.3 L1045.6,1273.8 L1048.2,1272.2 L1050.8,1270.7 L1053.3,1269.1 L1055.9,1267.5 L1058.5,1266.0 L1061.1,1264.4 L1063.7,1262.8 L1066.3,1261.3 L1068.8,1259.7 L1071.4,1258.2 L1074.0,1256.6 L1076.6,1255.1 L1079.2,1253.5 L1081.7,1251.9 L1084.3,1250.4 L1086.9,1248.8 L1089.5,1247.3 L1092.1,1245.7 L1094.6,1244.2 L1097.2,1242.6 L1099.8,1241.1 L1102.4,1239.5 L1105.0,1237.9 L1107.5,1236.4 L1110.1,1234.8 L1112.7,1233.3 L1115.3,1231.7 L1117.9,1230.2 L1120.5,1228.6 L1123.0,1227.1 L1125.6,1225.5 L1128.2,1224.0 L1130.8,1222.4 L1133.4,1220.9 L1135.9,1219.3 L1138.5,1217.8 L1141.1,1216.2 L1143.7,1214.7 L1146.3,1213.1 L1148.8,1211.6 L1151.4,1210.0 L1154.0,1208.5 L1156.6,1207.0 L1159.2,1205.4 L1161.8,1203.9 L1164.3,1202.3 L1166.9,1200.8 L1169.5,1199.2 L1172.1,1197.7 L1174.7,1196.1 L1177.2,1194.6 L1179.8,1193.0 L1182.4,1191.5 L1185.0,1189.9 L1187.6,1188.4 L1190.1,1186.9 L1192.7,1185.3 L1195.3,1183.8 L1197.9,1182.2 L1200.5,1180.7 L1203.1,1179.1 L1205.6,1177.6 L1208.2,1176.1 L1210.8,1174.5 L1213.4,1173.0 L1216.0,1171.4 L1218.5,1169.9 L1221.1,1168.3 L1223.7,1166.8 L1226.3,1165.3 L1228.9,1163.7 L1231.4,1162.2 L1234.0,1160.6 L1236.6,1159.1 L1239.2,1157.5 L1241.8,1156.0 L1244.3,1154.5 L1246.9,1152.9 L1249.5,1151.4 L1252.1,1149.8 L1254.7,1148.3 L1257.3,1146.8 L1259.8,1145.2 L1262.4,1143.7 L1265.0,1142.1 L1267.6,1140.6 L1270.2,1139.1 L1272.7,1137.5 L1275.3,1136.0 L1277.9,1134.4 L1280.5,1132.9 L1283.1,1131.4 L1285.6,1129.8 L1288.2,1128.3 L1290.8,1126.7 L1293.4,1125.2 L1296.0,1123.7 L1298.6,1122.1 L1301.1,1120.6 L1303.7,1119.0 L1306.3,1117.5 L1308.9,1116.0 L1311.5,1114.4 L1314.0,1112.9 L1316.6,1111.4 L1319.2,1109.8 L1321.8,1108.3 L1324.4,1106.7 L1326.9,1105.2 L1329.5,1103.7 L1332.1,1102.1 L1334.7,1100.6 L1337.3,1099.0 L1339.8,1097.5 L1342.4,1096.0 L1345.0,1094.4 L1347.6,1092.9 L1350.2,1091.4 L1352.8,1089.8 L1355.3,1088.3 L1357.9,1086.7 L1360.5,1085.2 L1363.1,1083.7 L1365.7,1082.1 L1368.2,1080.6 L1370.8,1079.1 L1373.4,1077.5 L1376.0,1076.0 L1378.6,1074.5 L1381.1,1072.9 L1383.7,1071.4 L1386.3,1069.8 L1388.9,1068.3 L1391.5,1066.8 L1394.1,1065.2 L1396.6,1063.7 L1399.2,1062.2 L1401.8,1060.6 L1404.4,1059.1 L1407.0,1057.5 L1409.5,1056.0 L1412.1,1054.5 L1414.7,1052.9 L1417.3,1051.4 L1419.9,1049.9 L1422.4,1048.3 L1425.0,1046.8 L1427.6,1045.3 L1430.2,1043.7 L1432.8,1042.2 L1435.3,1040.7" stroke="#22bb00" stroke-width="2.4" fill="none" stroke-dasharray="12 11 12 11 12 5 2.4 5"/>
<path d="M663.6,1590.0 L666.2,1584.0 L668.8,1578.3 L671.3,1572.9 L673.9,1567.7 L676.5,1562.7 L679.1,1558.0 L681.7,1553.4 L684.2,1549.0 L686.8,1544.7 L689.4,1540.7 L692.0,1536.7 L694.6,1532.9 L697.2,1529.2 L699.7,1525.7 L702.3,1522.2 L704.9,1518.8 L707.5,1515.6 L710.1,1512.4 L712.6,1509.3 L715.2,1506.3 L717.8,1503.3 L720.4,1500.5 L723.0,1497.6 L725.5,1494.9 L728.1,1492.2 L730.7,1489.6 L733.3,1487.0 L735.9,1484.4 L738.5,1481.9 L741.0,1479.5 L743.6,1477.0 L746.2,1474.7 L748.8,1472.3 L751.4,1470.0 L753.9,1467.7 L756.5,1465.5 L759.1,1463.3 L761.7,1461.1 L764.3,1458.9 L766.8,1456.8 L769.4,1454.7 L772.0,1452.6 L774.6,1450.5 L777.2,1448.5 L779.7,1446.4 L782.3,1444.4 L784.9,1442.4 L787.5,1440.5 L790.1,1438.5 L792.7,1436.6 L795.2,1434.6 L797.8,1432.7 L800.4,1430.8 L803.0,1428.9 L805.6,1427.0 L808.1,1425.2 L810.7,1423.3 L813.3,1421.5 L815.9,1419.7 L818.5,1417.8 L821.0,1416.0 L823.6,1414.2 L826.2,1412.4 L828.8,1410.6 L831.4,1408.9 L834.0,1407.1 L836.5,1405.3 L839.1,1403.6 L841.7,1401.8 L844.3,1400.1 L846.9,1398.3 L849.4,1396.6 L852.0,1394.9 L854.6,1393.2 L857.2,1391.5 L859.8,1389.7 L862.3,1388.0 L864.9,1386.3 L867.5,1384.7 L870.1,1383.0 L872.7,1381.3 L875.3,1379.6 L877.8,1377.9 L880.4,1376.3 L883.0,1374.6 L885.6,1372.9 L888.2,1371.3 L890.7,1369.6 L893.3,1367.9 L895.9,1366.3 L898.5,1364.7 L901.1,1363.0 L903.6,1361.4 L906.2,1359.7 L908.8,1358.1 L911.4,1356.5 L914.0,1354.8 L916.5,1353.2 L919.1,1351.6 L921.7,1349.9 L924.3,1348.3 L926.9,1346.7 L929.5,1345.1 L932.0,1343.5 L934.6,1341.9 L937.2,1340.3 L939.8,1338.6 L942.4,1337.0 L944.9,1335.4 L947.5,1333.8 L950.1,1332.2 L952.7,1330.6 L955.3,1329.0 L957.8,1327.4 L960.4,1325.8 L963.0,1324.2 L965.6,1322.6 L968.2,1321.1 L970.8,1319.5 L973.3,1317.9 L975.9,1316.3 L978.5,1314.7 L981.1,1313.1 L983.7,1311.5 L986.2,1309.9 L988.8,1308.4 L991.4,1306.8 L994.0,1305.2 L996.6,1303.6 L999.1,1302.0 L1001.7,1300.5 L1004.3,1298.9 L1006.9,1297.3 L1009.5,1295.7 L1012.0,1294.2 L1014.6,1292.6 L1017.2,1291.0 L1019.8,1289.5 L1022.4,1287.9 L1025.0,1286.3 L1027.5,1284.7 L1030.1,1283.2 L1032.7,1281.6 L1035.3,1280.0 L1037.9,1278.5 L1040.4,1276.9 L1043.0,1275.3 L1045.6,1273.8 L1048.2,1272.2 L1050.8,1270.7 L1053.3,1269.1 L1055.9,1267.5 L1058.5,1266.0 L1061.1,1264.4 L1063.7,1262.8 L1066.3,1261.3 L1068.8,1259.7 L1071.4,1258.2 L1074.0,1256.6 L1076.6,1255.1 L1079.2,1253.5 L1081.7,1251.9 L1084.3,1250.4 L1086.9,1248.8 L1089.5,1247.3 L1092.1,1245.7 L1094.6,1244.2 L1097.2,1242.6 L1099.8,1241.1 L1102.4,1239.5 L1105.0,1237.9 L1107.5,1236.4 L1110.1,1234.8 L1112.7,1233.3 L1115.3,1231.7 L1117.9,1230.2 L1120.5,1228.6 L1123.0,1227.1 L1125.6,1225.5 L1128.2,1224.0 L1130.8,1222.4 L1133.4,1220.9 L1135.9,1219.3 L1138.5,1217.8 L1141.1,1216.2 L1143.7,1214.7 L1146.3,1213.1 L1148.8,1211.6 L1151.4,1210.0 L1154.0,1208.5 L1156.6,1207.0 L1159.2,1205.4 L1161.8,1203.9 L1164.3,1202.3 L1166.9,1200.8 L1169.5,1199.2 L1172.1,1197.7 L1174.7,1196.1 L1177.2,1194.6 L1179.8,1193.0 L1182.4,1191.5 L1185.0,1189.9 L1187.6,1188.4 L1190.1,1186.9 L1192.7,1185.3 L1195.3,1183.8 L1197.9,1182.2 L1200.5,1180.7 L1203.1,1179.1 L1205.6,1177.6 L1208.2,1176.1 L1210.8,1174.5 L1213.4,1173.0 L1216.0,1171.4 L1218.5,1169.9 L1221.1,1168.3 L1223.7,1166.8 L1226.3,1165.3 L1228.9,1163.7 L1231.4,1162.2 L1234.0,1160.6 L1236.6,1159.1 L1239.2,1157.5 L1241.8,1156.0 L1244.3,1154.5 L1246.9,1152.9 L1249.5,1151.4 L1252.1,1149.8 L1254.7,1148.3 L1257.3,1146.8 L1259.8,1145.2 L1262.4,1143.7 L1265.0,1142.1 L1267.6,1140.6 L1270.2,1139.1 L1272.7,1137.5 L1275.3,1136.0 L1277.9,1134.4 L1280.5,1132.9 L1283.1,1131.4 L1285.6,1129.8 L1288.2,1128.3 L1290.8,1126.7 L1293.4,1125.2 L1296.0,1123.7 L1298.6,1122.1 L1301.1,1120.6 L1303.7,1119.0 L1306.3,1117.5 L1308.9,1116.0 L1311.5,1114.4 L1314.0,1112.9 L1316.6,1111.4 L1319.2,1109.8 L1321.8,1108.3 L1324.4,1106.7 L1326.9,1105.2 L1329.5,1103.7 L1332.1,1102.1 L1334.7,1100.6 L1337.3,1099.0 L1339.8,1097.5 L1342.4,1096.0 L1345.0,1094.4 L1347.6,1092.9 L1350.2,1091.4 L1352.8,1089.8 L1355.3,1088.3 L1357.9,1086.7 L1360.5,1085.2 L1363.1,1083.7 L1365.7,1082.1 L1368.2,1080.6 L1370.8,1079.1 L1373.4,1077.5 L1376.0,1076.0 L1378.6,1074.5 L1381.1,1072.9 L1383.7,1071.4 L1386.3,1069.8 L1388.9,1068.3 L1391.5,1066.8 L1394.1,1065.2 L1396.6,1063.7 L1399.2,1062.2 L1401.8,1060.6 L1404.4,1059.1 L1407.0,1057.5 L1409.5,1056.0 L1412.1,1054.5 L1414.7,1052.9 L1417.3,1051.4 L1419.9,1049.9 L1422.4,1048.3 L1425.0,1046.8 L1427.6,1045.3 L1430.2,1043.7 L1432.8,1042.2 L1435.3,1040.7" stroke="#0033ee" stroke-width="2.4" fill="none" stroke-dasharray="0 9.6 2.4 11 0 9.6 2.4 11 0 17 2.4 5"/>
</g>
<path d="M663.6,1590.0 L666.2,1585.1 L668.8,1580.5 L671.3,1576.1 L673.9,1571.9 L676.5,1567.8 L679.1,1564.0 L681.7,1560.2 L684.2,1556.7 L686.8,1553.2 L689.4,1549.9 L692.0,1546.7 L694.6,1543.6 L697.2,1540.6 L699.7,1537.7 L702.3,1534.9 L704.9,1532.2 L707.5,1529.5 L710.1,1527.0 L712.6,1524.4 L715.2,1522.0 L717.8,1519.6 L720.4,1517.3 L723.0,1515.0 L725.5,1512.7 L728.1,1510.5 L730.7,1508.4 L733.3,1506.3 L735.9,1504.2 L738.5,1502.2 L741.0,1500.2 L743.6,1498.2 L746.2,1496.3 L748.8,1494.4 L751.4,1492.5 L753.9,1490.7 L756.5,1488.8 L759.1,1487.0 L761.7,1485.3 L764.3,1483.5 L766.8,1481.8 L769.4,1480.1 L772.0,1478.4 L774.6,1476.7 L777.2,1475.0 L779.7,1473.4 L782.3,1471.7 L784.9,1470.1 L787.5,1468.5 L790.1,1466.9 L792.7,1465.3 L795.2,1463.8 L797.8,1462.2 L800.4,1460.7 L803.0,1459.1 L805.6,1457.6 L808.1,1456.1 L810.7,1454.6 L813.3,1453.1 L815.9,1451.6 L818.5,1450.1 L821.0,1448.7 L823.6,1447.2 L826.2,1445.7 L828.8,1444.3 L831.4,1442.8 L834.0,1441.4 L836.5,1440.0 L839.1,1438.5 L841.7,1437.1 L844.3,1435.7 L846.9,1434.3 L849.4,1432.9 L852.0,1431.5 L854.6,1430.1 L857.2,1428.7 L859.8,1427.3 L862.3,1425.9 L864.9,1424.5 L867.5,1423.2 L870.1,1421.8 L872.7,1420.4 L875.3,1419.1 L877.8,1417.7 L880.4,1416.3 L883.0,1415.0 L885.6,1413.6 L888.2,1412.3 L890.7,1410.9 L893.3,1409.6 L895.9,1408.3 L898.5,1406.9 L901.1,1405.6 L903.6,1404.2 L906.2,1402.9 L908.8,1401.6 L911.4,1400.3 L914.0,1398.9 L916.5,1397.6 L919.1,1396.3 L921.7,1395.0 L924.3,1393.7 L926.9,1392.3 L929.5,1391.0 L932.0,1389.7 L934.6,1388.4 L937.2,1387.1 L939.8,1385.8 L942.4,1384.5 L944.9,1383.2 L947.5,1381.9 L950.1,1380.6 L952.7,1379.3 L955.3,1378.0 L957.8,1376.7 L960.4,1375.4 L963.0,1374.1 L965.6,1372.8 L968.2,1371.5 L970.8,1370.2 L973.3,1368.9 L975.9,1367.6 L978.5,1366.3 L981.1,1365.0 L983.7,1363.8 L986.2,1362.5 L988.8,1361.2 L991.4,1359.9 L994.0,1358.6 L996.6,1357.3 L999.1,1356.1 L1001.7,1354.8 L1004.3,1353.5 L1006.9,1352.2 L1009.5,1350.9 L1012.0,1349.7 L1014.6,1348.4 L1017.2,1347.1 L1019.8,1345.8 L1022.4,1344.5 L1025.0,1343.3 L1027.5,1342.0 L1030.1,1340.7 L1032.7,1339.4 L1035.3,1338.2 L1037.9,1336.9 L1040.4,1335.6 L1043.0,1334.4 L1045.6,1333.1 L1048.2,1331.8 L1050.8,1330.6 L1053.3,1329.3 L1055.9,1328.0 L1058.5,1326.7 L1061.1,1325.5 L1063.7,1324.2 L1066.3,1322.9 L1068.8,1321.7 L1071.4,1320.4 L1074.0,1319.1 L1076.6,1317.9 L1079.2,1316.6 L1081.7,1315.3 L1084.3,1314.1 L1086.9,1312.8 L1089.5,1311.6 L1092.1,1310.3 L1094.6,1309.0 L1097.2,1307.8 L1099.8,1306.5 L1102.4,1305.2 L1105.0,1304.0 L1107.5,1302.7 L1110.1,1301.5 L1112.7,1300.2 L1115.3,1298.9 L1117.9,1297.7 L1120.5,1296.4 L1123.0,1295.2 L1125.6,1293.9 L1128.2,1292.6 L1130.8,1291.4 L1133.4,1290.1 L1135.9,1288.9 L1138.5,1287.6 L1141.1,1286.3 L1143.7,1285.1 L1146.3,1283.8 L1148.8,1282.6 L1151.4,1281.3 L1154.0,1280.1 L1156.6,1278.8 L1159.2,1277.5 L1161.8,1276.3 L1164.3,1275.0 L1166.9,1273.8 L1169.5,1272.5 L1172.1,1271.3 L1174.7,1270.0 L1177.2,1268.7 L1179.8,1267.5 L1182.4,1266.2 L1185.0,1265.0 L1187.6,1263.7 L1190.1,1262.5 L1192.7,1261.2 L1195.3,1260.0 L1197.9,1258.7 L1200.5,1257.5 L1203.1,1256.2 L1205.6,1254.9 L1208.2,1253.7 L1210.8,1252.4 L1213.4,1251.2 L1216.0,1249.9 L1218.5,1248.7 L1221.1,1247.4 L1223.7,1246.2 L1226.3,1244.9 L1228.9,1243.7 L1231.4,1242.4 L1234.0,1241.2 L1236.6,1239.9 L1239.2,1238.7 L1241.8,1237.4 L1244.3,1236.2 L1246.9,1234.9 L1249.5,1233.6 L1252.1,1232.4 L1254.7,1231.1 L1257.3,1229.9 L1259.8,1228.6 L1262.4,1227.4 L1265.0,1226.1 L1267.6,1224.9 L1270.2,1223.6 L1272.7,1222.4 L1275.3,1221.1 L1277.9,1219.9 L1280.5,1218.6 L1283.1,1217.4 L1285.6,1216.1 L1288.2,1214.9 L1290.8,1213.6 L1293.4,1212.4 L1296.0,1211.1 L1298.6,1209.9 L1301.1,1208.6 L1303.7,1207.4 L1306.3,1206.1 L1308.9,1204.9 L1311.5,1203.6 L1314.0,1202.4 L1316.6,1201.1 L1319.2,1199.9 L1321.8,1198.6 L1324.4,1197.4 L1326.9,1196.1 L1329.5,1194.9 L1332.1,1193.6 L1334.7,1192.4 L1337.3,1191.1 L1339.8,1189.9 L1342.4,1188.6 L1345.0,1187.4 L1347.6,1186.1 L1350.2,1184.9 L1352.8,1183.6 L1355.3,1182.4 L1357.9,1181.1 L1360.5,1179.9 L1363.1,1178.6 L1365.7,1177.4 L1368.2,1176.1 L1370.8,1174.9 L1373.4,1173.6 L1376.0,1172.4 L1378.6,1171.1 L1381.1,1169.9 L1383.7,1168.6 L1386.3,1167.4 L1388.9,1166.2 L1391.5,1164.9 L1394.1,1163.7 L1396.6,1162.4 L1399.2,1161.2 L1401.8,1159.9 L1404.4,1158.7 L1407.0,1157.4 L1409.5,1156.2 L1412.1,1154.9 L1414.7,1153.7 L1417.3,1152.4 L1419.9,1151.2 L1422.4,1149.9 L1425.0,1148.7 L1427.6,1147.4 L1430.2,1146.2 L1432.8,1144.9 L1435.3,1143.7" stroke="#8866f8" stroke-width="2.4" fill="none" stroke-dasharray="12 11 12 11 12 5 2.4 5"/>
<path d="M663.6,1590.0 L666.2,1585.1 L668.8,1580.5 L671.3,1576.1 L673.9,1571.9 L676.5,1567.8 L679.1,1564.0 L681.7,1560.2 L684.2,1556.7 L686.8,1553.2 L689.4,1549.9 L692.0,1546.7 L694.6,1543.6 L697.2,1540.6 L699.7,1537.7 L702.3,1534.9 L704.9,1532.2 L707.5,1529.5 L710.1,1527.0 L712.6,1524.4 L715.2,1522.0 L717.8,1519.6 L720.4,1517.3 L723.0,1515.0 L725.5,1512.7 L728.1,1510.5 L730.7,1508.4 L733.3,1506.3 L735.9,1504.2 L738.5,1502.2 L741.0,1500.2 L743.6,1498.2 L746.2,1496.3 L748.8,1494.4 L751.4,1492.5 L753.9,1490.7 L756.5,1488.8 L759.1,1487.0 L761.7,1485.3 L764.3,1483.5 L766.8,1481.8 L769.4,1480.1 L772.0,1478.4 L774.6,1476.7 L777.2,1475.0 L779.7,1473.4 L782.3,1471.7 L784.9,1470.1 L787.5,1468.5 L790.1,1466.9 L792.7,1465.3 L795.2,1463.8 L797.8,1462.2 L800.4,1460.7 L803.0,1459.1 L805.6,1457.6 L808.1,1456.1 L810.7,1454.6 L813.3,1453.1 L815.9,1451.6 L818.5,1450.1 L821.0,1448.7 L823.6,1447.2 L826.2,1445.7 L828.8,1444.3 L831.4,1442.8 L834.0,1441.4 L836.5,1440.0 L839.1,1438.5 L841.7,1437.1 L844.3,1435.7 L846.9,1434.3 L849.4,1432.9 L852.0,1431.5 L854.6,1430.1 L857.2,1428.7 L859.8,1427.3 L862.3,1425.9 L864.9,1424.5 L867.5,1423.2 L870.1,1421.8 L872.7,1420.4 L875.3,1419.1 L877.8,1417.7 L880.4,1416.3 L883.0,1415.0 L885.6,1413.6 L888.2,1412.3 L890.7,1410.9 L893.3,1409.6 L895.9,1408.3 L898.5,1406.9 L901.1,1405.6 L903.6,1404.2 L906.2,1402.9 L908.8,1401.6 L911.4,1400.3 L914.0,1398.9 L916.5,1397.6 L919.1,1396.3 L921.7,1395.0 L924.3,1393.7 L926.9,1392.3 L929.5,1391.0 L932.0,1389.7 L934.6,1388.4 L937.2,1387.1 L939.8,1385.8 L942.4,1384.5 L944.9,1383.2 L947.5,1381.9 L950.1,1380.6 L952.7,1379.3 L955.3,1378.0 L957.8,1376.7 L960.4,1375.4 L963.0,1374.1 L965.6,1372.8 L968.2,1371.5 L970.8,1370.2 L973.3,1368.9 L975.9,1367.6 L978.5,1366.3 L981.1,1365.0 L983.7,1363.8 L986.2,1362.5 L988.8,1361.2 L991.4,1359.9 L994.0,1358.6 L996.6,1357.3 L999.1,1356.1 L1001.7,1354.8 L1004.3,1353.5 L1006.9,1352.2 L1009.5,1350.9 L1012.0,1349.7 L1014.6,1348.4 L1017.2,1347.1 L1019.8,1345.8 L1022.4,1344.5 L1025.0,1343.3 L1027.5,1342.0 L1030.1,1340.7 L1032.7,1339.4 L1035.3,1338.2 L1037.9,1336.9 L1040.4,1335.6 L1043.0,1334.4 L1045.6,1333.1 L1048.2,1331.8 L1050.8,1330.6 L1053.3,1329.3 L1055.9,1328.0 L1058.5,1326.7 L1061.1,1325.5 L1063.7,1324.2 L1066.3,1322.9 L1068.8,1321.7 L1071.4,1320.4 L1074.0,1319.1 L1076.6,1317.9 L1079.2,1316.6 L1081.7,1315.3 L1084.3,1314.1 L1086.9,1312.8 L1089.5,1311.6 L1092.1,1310.3 L1094.6,1309.0 L1097.2,1307.8 L1099.8,1306.5 L1102.4,1305.2 L1105.0,1304.0 L1107.5,1302.7 L1110.1,1301.5 L1112.7,1300.2 L1115.3,1298.9 L1117.9,1297.7 L1120.5,1296.4 L1123.0,1295.2 L1125.6,1293.9 L1128.2,1292.6 L1130.8,1291.4 L1133.4,1290.1 L1135.9,1288.9 L1138.5,1287.6 L1141.1,1286.3 L1143.7,1285.1 L1146.3,1283.8 L1148.8,1282.6 L1151.4,1281.3 L1154.0,1280.1 L1156.6,1278.8 L1159.2,1277.5 L1161.8,1276.3 L1164.3,1275.0 L1166.9,1273.8 L1169.5,1272.5 L1172.1,1271.3 L1174.7,1270.0 L1177.2,1268.7 L1179.8,1267.5 L1182.4,1266.2 L1185.0,1265.0 L1187.6,1263.7 L1190.1,1262.5 L1192.7,1261.2 L1195.3,1260.0 L1197.9,1258.7 L1200.5,1257.5 L1203.1,1256.2 L1205.6,1254.9 L1208.2,1253.7 L1210.8,1252.4 L1213.4,1251.2 L1216.0,1249.9 L1218.5,1248.7 L1221.1,1247.4 L1223.7,1246.2 L1226.3,1244.9 L1228.9,1243.7 L1231.4,1242.4 L1234.0,1241.2 L1236.6,1239.9 L1239.2,1238.7 L1241.8,1237.4 L1244.3,1236.2 L1246.9,1234.9 L1249.5,1233.6 L1252.1,1232.4 L1254.7,1231.1 L1257.3,1229.9 L1259.8,1228.6 L1262.4,1227.4 L1265.0,1226.1 L1267.6,1224.9 L1270.2,1223.6 L1272.7,1222.4 L1275.3,1221.1 L1277.9,1219.9 L1280.5,1218.6 L1283.1,1217.4 L1285.6,1216.1 L1288.2,1214.9 L1290.8,1213.6 L1293.4,1212.4 L1296.0,1211.1 L1298.6,1209.9 L1301.1,1208.6 L1303.7,1207.4 L1306.3,1206.1 L1308.9,1204.9 L1311.5,1203.6 L1314.0,1202.4 L1316.6,1201.1 L1319.2,1199.9 L1321.8,1198.6 L1324.4,1197.4 L1326.9,1196.1 L1329.5,1194.9 L1332.1,1193.6 L1334.7,1192.4 L1337.3,1191.1 L1339.8,1189.9 L1342.4,1188.6 L1345.0,1187.4 L1347.6,1186.1 L1350.2,1184.9 L1352.8,1183.6 L1355.3,1182.4 L1357.9,1181.1 L1360.5,1179.9 L1363.1,1178.6 L1365.7,1177.4 L1368.2,1176.1 L1370.8,1174.9 L1373.4,1173.6 L1376.0,1172.4 L1378.6,1171.1 L1381.1,1169.9 L1383.7,1168.6 L1386.3,1167.4 L1388.9,1166.2 L1391.5,1164.9 L1394.1,1163.7 L1396.6,1162.4 L1399.2,1161.2 L1401.8,1159.9 L1404.4,1158.7 L1407.0,1157.4 L1409.5,1156.2 L1412.1,1154.9 L1414.7,1153.7 L1417.3,1152.4 L1419.9,1151.2 L1422.4,1149.9 L1425.0,1148.7 L1427.6,1147.4 L1430.2,1146.2 L1432.8,1144.9 L1435.3,1143.7" stroke="#7df5c8" stroke-width="2.4" fill="none" stroke-dasharray="0 9.6 2.4 11 0 9.6 2.4 11 0 17 2.4 5"/>
<path d="M663.6,1590.0 L666.2,1581.1 L668.8,1572.6 L671.3,1564.6 L673.9,1556.9 L676.5,1549.5 L679.1,1542.5 L681.7,1535.7 L684.2,1529.2 L686.8,1523.0 L689.4,1517.1 L692.0,1511.3 L694.6,1505.8 L697.2,1500.5 L699.7,1495.3 L702.3,1490.4 L704.9,1485.6 L707.5,1481.0 L710.1,1476.5 L712.6,1472.2 L715.2,1468.0 L717.8,1463.9 L720.4,1459.9 L723.0,1456.1 L725.5,1452.4 L728.1,1448.8 L730.7,1445.3 L733.3,1441.9 L735.9,1438.5 L738.5,1435.3 L741.0,1432.2 L743.6,1429.1 L746.2,1426.1 L748.8,1423.2 L751.4,1420.3 L753.9,1417.6 L756.5,1414.9 L759.1,1412.2 L761.7,1409.6 L764.3,1407.1 L766.8,1404.7 L769.4,1402.3 L772.0,1399.9 L774.6,1397.6 L777.2,1395.4 L779.7,1393.2 L782.3,1391.1 L784.9,1389.0 L787.5,1386.9 L790.1,1384.9 L792.7,1383.0 L795.2,1381.1 L797.8,1379.2 L800.4,1377.4 L803.0,1375.6 L805.6,1373.8 L808.1,1372.1 L810.7,1370.5 L813.3,1368.9 L815.9,1367.3 L818.5,1365.7 L821.0,1364.2 L823.6,1362.7 L826.2,1361.3 L828.8,1359.9 L831.4,1358.5 L834.0,1357.1 L836.5,1355.8 L839.1,1354.6 L841.7,1353.3 L844.3,1352.1 L846.9,1350.9 L849.4,1349.8 L852.0,1348.6 L854.6,1347.6 L857.2,1346.5 L859.8,1345.5 L862.3,1344.5 L864.9,1343.5 L867.5,1342.6 L870.1,1341.6 L872.7,1340.8 L875.3,1339.9 L877.8,1339.1 L880.4,1338.3 L883.0,1337.5 L885.6,1336.8 L888.2,1336.0 L890.7,1335.3 L893.3,1334.7 L895.9,1334.0 L898.5,1333.4 L901.1,1332.8 L903.6,1332.3 L906.2,1331.7 L908.8,1331.2 L911.4,1330.7 L914.0,1330.2 L916.5,1329.8 L919.1,1329.4 L921.7,1329.0 L924.3,1328.6 L926.9,1328.3 L929.5,1327.9 L932.0,1327.6 L934.6,1327.3 L937.2,1327.1 L939.8,1326.9 L942.4,1326.6 L944.9,1326.4 L947.5,1326.3 L950.1,1326.1 L952.7,1326.0 L955.3,1325.9 L957.8,1325.8 L960.4,1325.7 L963.0,1325.7 L965.6,1325.6 L968.2,1325.6 L970.8,1325.7 L973.3,1325.7 L975.9,1325.7 L978.5,1325.8 L981.1,1325.9 L983.7,1326.0 L986.2,1326.1 L988.8,1326.2 L991.4,1326.4 L994.0,1326.6 L996.6,1326.8 L999.1,1327.0 L1001.7,1327.2 L1004.3,1327.4 L1006.9,1327.7 L1009.5,1327.9 L1012.0,1328.2 L1014.6,1328.5 L1017.2,1328.8 L1019.8,1329.1 L1022.4,1329.5 L1025.0,1329.8 L1027.5,1330.2 L1030.1,1330.6 L1032.7,1331.0 L1035.3,1331.3 L1037.9,1331.8 L1040.4,1332.2 L1043.0,1332.6 L1045.6,1333.1 L1048.2,1333.5 L1050.8,1334.0 L1053.3,1334.4 L1055.9,1334.9 L1058.5,1335.4 L1061.1,1335.9 L1063.7,1336.4 L1066.3,1336.9 L1068.8,1337.4 L1071.4,1338.0 L1074.0,1338.5 L1076.6,1339.0 L1079.2,1339.6 L1081.7,1340.1 L1084.3,1340.7 L1086.9,1341.2 L1089.5,1341.8 L1092.1,1342.3 L1094.6,1342.9 L1097.2,1343.5 L1099.8,1344.0 L1102.4,1344.6 L1105.0,1345.2 L1107.5,1345.7 L1110.1,1346.3 L1112.7,1346.9 L1115.3,1347.4 L1117.9,1348.0 L1120.5,1348.6 L1123.0,1349.1 L1125.6,1349.7 L1128.2,1350.2 L1130.8,1350.8 L1133.4,1351.3 L1135.9,1351.8 L1138.5,1352.3 L1141.1,1352.9 L1143.7,1353.4 L1146.3,1353.9 L1148.8,1354.4 L1151.4,1354.9 L1154.0,1355.3 L1156.6,1355.8 L1159.2,1356.2 L1161.8,1356.7 L1164.3,1357.1 L1166.9,1357.5 L1169.5,1357.9 L1172.1,1358.3 L1174.7,1358.7 L1177.2,1359.0 L1179.8,1359.4 L1182.4,1359.7 L1185.0,1360.0 L1187.6,1360.3 L1190.1,1360.5 L1192.7,1360.8 L1195.3,1361.0 L1197.9,1361.2 L1200.5,1361.4 L1203.1,1361.6 L1205.6,1361.7 L1208.2,1361.8 L1210.8,1361.9 L1213.4,1361.9 L1216.0,1362.0 L1218.5,1362.0 L1221.1,1362.0 L1223.7,1361.9 L1226.3,1361.8 L1228.9,1361.7 L1231.4,1361.6 L1234.0,1361.4 L1236.6,1361.2 L1239.2,1360.9 L1241.8,1360.6 L1244.3,1360.3 L1246.9,1360.0 L1249.5,1359.6 L1252.1,1359.1 L1254.7,1358.7 L1257.3,1358.2 L1259.8,1357.6 L1262.4,1357.0 L1265.0,1356.4 L1267.6,1355.7 L1270.2,1355.0 L1272.7,1354.2 L1275.3,1353.4 L1277.9,1352.5 L1280.5,1351.6 L1283.1,1350.7 L1285.6,1349.6 L1288.2,1348.6 L1290.8,1347.5 L1293.4,1346.3 L1296.0,1345.1 L1298.6,1343.8 L1301.1,1342.4 L1303.7,1341.0 L1306.3,1339.6 L1308.9,1338.1 L1311.5,1336.5 L1314.0,1334.8 L1316.6,1333.1 L1319.2,1331.4 L1321.8,1329.5 L1324.4,1327.7 L1326.9,1325.7 L1329.5,1323.6 L1332.1,1321.5 L1334.7,1319.4 L1337.3,1317.1 L1339.8,1314.8 L1342.4,1312.4 L1345.0,1309.9 L1347.6,1307.4 L1350.2,1304.8 L1352.8,1302.1 L1355.3,1299.3 L1357.9,1296.4 L1360.5,1293.4 L1363.1,1290.4 L1365.7,1287.3 L1368.2,1284.1 L1370.8,1280.8 L1373.4,1277.4 L1376.0,1273.9 L1378.6,1270.4 L1381.1,1266.7 L1383.7,1263.0 L1386.3,1259.1 L1388.9,1255.2 L1391.5,1251.1 L1394.1,1247.0 L1396.6,1242.7 L1399.2,1238.4 L1401.8,1233.9 L1404.4,1229.4 L1407.0,1224.7 L1409.5,1219.9 L1412.1,1215.0 L1414.7,1210.0 L1417.3,1204.9 L1419.9,1199.7 L1422.4,1194.4 L1425.0,1188.9 L1427.6,1183.3 L1430.2,1177.7 L1432.8,1171.8 L1435.3,1165.9" stroke="#0022ff" stroke-width="2.4" fill="none" stroke-dasharray="12 11 12 11 12 5 2.4 5"/>
<path d="M663.6,1590.0 L666.2,1581.1 L668.8,1572.6 L671.3,1564.6 L673.9,1556.9 L676.5,1549.5 L679.1,1542.5 L681.7,1535.7 L684.2,1529.2 L686.8,1523.0 L689.4,1517.1 L692.0,1511.3 L694.6,1505.8 L697.2,1500.5 L699.7,1495.3 L702.3,1490.4 L704.9,1485.6 L707.5,1481.0 L710.1,1476.5 L712.6,1472.2 L715.2,1468.0 L717.8,1463.9 L720.4,1459.9 L723.0,1456.1 L725.5,1452.4 L728.1,1448.8 L730.7,1445.3 L733.3,1441.9 L735.9,1438.5 L738.5,1435.3 L741.0,1432.2 L743.6,1429.1 L746.2,1426.1 L748.8,1423.2 L751.4,1420.3 L753.9,1417.6 L756.5,1414.9 L759.1,1412.2 L761.7,1409.6 L764.3,1407.1 L766.8,1404.7 L769.4,1402.3 L772.0,1399.9 L774.6,1397.6 L777.2,1395.4 L779.7,1393.2 L782.3,1391.1 L784.9,1389.0 L787.5,1386.9 L790.1,1384.9 L792.7,1383.0 L795.2,1381.1 L797.8,1379.2 L800.4,1377.4 L803.0,1375.6 L805.6,1373.8 L808.1,1372.1 L810.7,1370.5 L813.3,1368.9 L815.9,1367.3 L818.5,1365.7 L821.0,1364.2 L823.6,1362.7 L826.2,1361.3 L828.8,1359.9 L831.4,1358.5 L834.0,1357.1 L836.5,1355.8 L839.1,1354.6 L841.7,1353.3 L844.3,1352.1 L846.9,1350.9 L849.4,1349.8 L852.0,1348.6 L854.6,1347.6 L857.2,1346.5 L859.8,1345.5 L862.3,1344.5 L864.9,1343.5 L867.5,1342.6 L870.1,1341.6 L872.7,1340.8 L875.3,1339.9 L877.8,1339.1 L880.4,1338.3 L883.0,1337.5 L885.6,1336.8 L888.2,1336.0 L890.7,1335.3 L893.3,1334.7 L895.9,1334.0 L898.5,1333.4 L901.1,1332.8 L903.6,1332.3 L906.2,1331.7 L908.8,1331.2 L911.4,1330.7 L914.0,1330.2 L916.5,1329.8 L919.1,1329.4 L921.7,1329.0 L924.3,1328.6 L926.9,1328.3 L929.5,1327.9 L932.0,1327.6 L934.6,1327.3 L937.2,1327.1 L939.8,1326.9 L942.4,1326.6 L944.9,1326.4 L947.5,1326.3 L950.1,1326.1 L952.7,1326.0 L955.3,1325.9 L957.8,1325.8 L960.4,1325.7 L963.0,1325.7 L965.6,1325.6 L968.2,1325.6 L970.8,1325.7 L973.3,1325.7 L975.9,1325.7 L978.5,1325.8 L981.1,1325.9 L983.7,1326.0 L986.2,1326.1 L988.8,1326.2 L991.4,1326.4 L994.0,1326.6 L996.6,1326.8 L999.1,1327.0 L1001.7,1327.2 L1004.3,1327.4 L1006.9,1327.7 L1009.5,1327.9 L1012.0,1328.2 L1014.6,1328.5 L1017.2,1328.8 L1019.8,1329.1 L1022.4,1329.5 L1025.0,1329.8 L1027.5,1330.2 L1030.1,1330.6 L1032.7,1331.0 L1035.3,1331.3 L1037.9,1331.8 L1040.4,1332.2 L1043.0,1332.6 L1045.6,1333.1 L1048.2,1333.5 L1050.8,1334.0 L1053.3,1334.4 L1055.9,1334.9 L1058.5,1335.4 L1061.1,1335.9 L1063.7,1336.4 L1066.3,1336.9 L1068.8,1337.4 L1071.4,1338.0 L1074.0,1338.5 L1076.6,1339.0 L1079.2,1339.6 L1081.7,1340.1 L1084.3,1340.7 L1086.9,1341.2 L1089.5,1341.8 L1092.1,1342.3 L1094.6,1342.9 L1097.2,1343.5 L1099.8,1344.0 L1102.4,1344.6 L1105.0,1345.2 L1107.5,1345.7 L1110.1,1346.3 L1112.7,1346.9 L1115.3,1347.4 L1117.9,1348.0 L1120.5,1348.6 L1123.0,1349.1 L1125.6,1349.7 L1128.2,1350.2 L1130.8,1350.8 L1133.4,1351.3 L1135.9,1351.8 L1138.5,1352.3 L1141.1,1352.9 L1143.7,1353.4 L1146.3,1353.9 L1148.8,1354.4 L1151.4,1354.9 L1154.0,1355.3 L1156.6,1355.8 L1159.2,1356.2 L1161.8,1356.7 L1164.3,1357.1 L1166.9,1357.5 L1169.5,1357.9 L1172.1,1358.3 L1174.7,1358.7 L1177.2,1359.0 L1179.8,1359.4 L1182.4,1359.7 L1185.0,1360.0 L1187.6,1360.3 L1190.1,1360.5 L1192.7,1360.8 L1195.3,1361.0 L1197.9,1361.2 L1200.5,1361.4 L1203.1,1361.6 L1205.6,1361.7 L1208.2,1361.8 L1210.8,1361.9 L1213.4,1361.9 L1216.0,1362.0 L1218.5,1362.0 L1221.1,1362.0 L1223.7,1361.9 L1226.3,1361.8 L1228.9,1361.7 L1231.4,1361.6 L1234.0,1361.4 L1236.6,1361.2 L1239.2,1360.9 L1241.8,1360.6 L1244.3,1360.3 L1246.9,1360.0 L1249.5,1359.6 L1252.1,1359.1 L1254.7,1358.7 L1257.3,1358.2 L1259.8,1357.6 L1262.4,1357.0 L1265.0,1356.4 L1267.6,1355.7 L1270.2,1355.0 L1272.7,1354.2 L1275.3,1353.4 L1277.9,1352.5 L1280.5,1351.6 L1283.1,1350.7 L1285.6,1349.6 L1288.2,1348.6 L1290.8,1347.5 L1293.4,1346.3 L1296.0,1345.1 L1298.6,1343.8 L1301.1,1342.4 L1303.7,1341.0 L1306.3,1339.6 L1308.9,1338.1 L1311.5,1336.5 L1314.0,1334.8 L1316.6,1333.1 L1319.2,1331.4 L1321.8,1329.5 L1324.4,1327.7 L1326.9,1325.7 L1329.5,1323.6 L1332.1,1321.5 L1334.7,1319.4 L1337.3,1317.1 L1339.8,1314.8 L1342.4,1312.4 L1345.0,1309.9 L1347.6,1307.4 L1350.2,1304.8 L1352.8,1302.1 L1355.3,1299.3 L1357.9,1296.4 L1360.5,1293.4 L1363.1,1290.4 L1365.7,1287.3 L1368.2,1284.1 L1370.8,1280.8 L1373.4,1277.4 L1376.0,1273.9 L1378.6,1270.4 L1381.1,1266.7 L1383.7,1263.0 L1386.3,1259.1 L1388.9,1255.2 L1391.5,1251.1 L1394.1,1247.0 L1396.6,1242.7 L1399.2,1238.4 L1401.8,1233.9 L1404.4,1229.4 L1407.0,1224.7 L1409.5,1219.9 L1412.1,1215.0 L1414.7,1210.0 L1417.3,1204.9 L1419.9,1199.7 L1422.4,1194.4 L1425.0,1188.9 L1427.6,1183.3 L1430.2,1177.7 L1432.8,1171.8 L1435.3,1165.9" stroke="#aa33ff" stroke-width="2.4" fill="none" stroke-dasharray="0 9.6 2.4 11 0 9.6 2.4 11 0 17 2.4 5"/>
<path d="M666.3,1581.6L677.6,1547.8M682.9,1534.3L692.8,1512.0M699.6,1498.6L707.7,1483.8M716.4,1470.5L722.6,1461.9M733.4,1448.6L737.2,1444.2M749.9,1431.4L752.3,1429.2" stroke="#dc0008" stroke-width="4.6" stroke-linecap="round" fill="none"/>
<g fill="#dc0008"><rect x="657.0" y="1583.0" width="13.2" height="13.2" rx="1"/><rect x="672.8" y="1535.7" width="13.2" height="13.2" rx="1"/><rect x="688.6" y="1499.9" width="13.2" height="13.2" rx="1"/><rect x="704.2" y="1471.7" width="13.2" height="13.2" rx="1"/><rect x="720.0" y="1449.7" width="13.2" height="13.2" rx="1"/><rect x="735.6" y="1431.9" width="13.2" height="13.2" rx="1"/><rect x="751.4" y="1417.3" width="13.2" height="13.2" rx="1"/><rect x="767.3" y="1404.9" width="13.2" height="13.2" rx="1"/><rect x="782.9" y="1394.7" width="13.2" height="13.2" rx="1"/><rect x="798.7" y="1385.7" width="13.2" height="13.2" rx="1"/><rect x="814.5" y="1378.3" width="13.2" height="13.2" rx="1"/><rect x="830.1" y="1371.3" width="13.2" height="13.2" rx="1"/><rect x="845.9" y="1365.5" width="13.2" height="13.2" rx="1"/><rect x="861.7" y="1360.6" width="13.2" height="13.2" rx="1"/><rect x="877.5" y="1355.6" width="13.2" height="13.2" rx="1"/><rect x="893.3" y="1351.4" width="13.2" height="13.2" rx="1"/><rect x="909.1" y="1347.0" width="13.2" height="13.2" rx="1"/><rect x="924.9" y="1343.2" width="13.2" height="13.2" rx="1"/><rect x="940.7" y="1339.6" width="13.2" height="13.2" rx="1"/><rect x="956.2" y="1336.2" width="13.2" height="13.2" rx="1"/><rect x="972.0" y="1332.8" width="13.2" height="13.2" rx="1"/><rect x="987.8" y="1329.6" width="13.2" height="13.2" rx="1"/><rect x="1003.4" y="1326.6" width="13.2" height="13.2" rx="1"/><rect x="1019.2" y="1323.6" width="13.2" height="13.2" rx="1"/><rect x="1034.8" y="1320.6" width="13.2" height="13.2" rx="1"/><rect x="1051.0" y="1317.3" width="13.2" height="13.2" rx="1"/><rect x="1066.8" y="1314.5" width="13.2" height="13.2" rx="1"/><rect x="1082.4" y="1311.7" width="13.2" height="13.2" rx="1"/><rect x="1098.0" y="1308.9" width="13.2" height="13.2" rx="1"/><rect x="1113.8" y="1305.7" width="13.2" height="13.2" rx="1"/><rect x="1129.4" y="1302.5" width="13.2" height="13.2" rx="1"/><rect x="1145.4" y="1299.3" width="13.2" height="13.2" rx="1"/><rect x="1160.9" y="1296.1" width="13.2" height="13.2" rx="1"/><rect x="1176.7" y="1292.9" width="13.2" height="13.2" rx="1"/><rect x="1192.5" y="1289.7" width="13.2" height="13.2" rx="1"/><rect x="1208.1" y="1286.1" width="13.2" height="13.2" rx="1"/><rect x="1223.9" y="1282.5" width="13.2" height="13.2" rx="1"/><rect x="1239.7" y="1278.9" width="13.2" height="13.2" rx="1"/><rect x="1255.3" y="1275.1" width="13.2" height="13.2" rx="1"/><rect x="1271.3" y="1271.3" width="13.2" height="13.2" rx="1"/><rect x="1286.9" y="1267.3" width="13.2" height="13.2" rx="1"/><rect x="1302.7" y="1263.1" width="13.2" height="13.2" rx="1"/><rect x="1318.7" y="1258.7" width="13.2" height="13.2" rx="1"/><rect x="1334.3" y="1254.5" width="13.2" height="13.2" rx="1"/><rect x="1350.0" y="1249.9" width="13.2" height="13.2" rx="1"/><rect x="1365.8" y="1245.3" width="13.2" height="13.2" rx="1"/><rect x="1381.6" y="1240.3" width="13.2" height="13.2" rx="1"/><rect x="1397.4" y="1235.3" width="13.2" height="13.2" rx="1"/><rect x="1413.0" y="1230.3" width="13.2" height="13.2" rx="1"/><rect x="1428.8" y="1224.7" width="13.2" height="13.2" rx="1"/></g>
<rect x="663.60" y="953.10" width="787.00" height="636.90" fill="none" stroke="#000" stroke-width="2.3"/>
<path d="M663.60,1590.00v12.3M817.95,1590.00v12.3M972.30,1590.00v12.3M1126.65,1590.00v12.3M1281.00,1590.00v12.3M1435.35,1590.00v12.3M740.77,1590.00v6.3M895.12,1590.00v6.3M1049.47,1590.00v6.3M1203.83,1590.00v6.3M1358.17,1590.00v6.3M663.60,1590.00h-12.3M663.60,1483.85h-12.3M663.60,1377.70h-12.3M663.60,1271.55h-12.3M663.60,1165.40h-12.3M663.60,1059.25h-12.3M663.60,953.10h-12.3M663.60,1536.92h-6.3M663.60,1430.78h-6.3M663.60,1324.62h-6.3M663.60,1218.47h-6.3M663.60,1112.33h-6.3M663.60,1006.17h-6.3" stroke="#000" stroke-width="2.3" fill="none"/>
<g font-size="36" fill="#000">
<text x="663.6" y="1639.4" text-anchor="middle">0</text>
<text x="818.0" y="1639.4" text-anchor="middle">1</text>
<text x="972.3" y="1639.4" text-anchor="middle">2</text>
<text x="1126.7" y="1639.4" text-anchor="middle">3</text>
<text x="1281.0" y="1639.4" text-anchor="middle">4</text>
<text x="1435.3" y="1639.4" text-anchor="middle">5</text>
<text x="642.6" y="1601.3" text-anchor="end">0.00</text>
<text x="642.6" y="1495.1" text-anchor="end">0.02</text>
<text x="642.6" y="1389.0" text-anchor="end">0.04</text>
<text x="642.6" y="1282.8" text-anchor="end">0.06</text>
<text x="642.6" y="1176.7" text-anchor="end">0.08</text>
<text x="642.6" y="1070.5" text-anchor="end">0.10</text>
<text x="642.6" y="964.4" text-anchor="end">0.12</text>
</g>
<line x1="697.6" y1="988.8" x2="769.9" y2="988.8" stroke="#000" stroke-width="5" stroke-linecap="round"/>
<path d="M697.6,1029.7h19.5M745.1,1029.7h19.5" stroke="#41a4f5" stroke-width="5" stroke-linecap="round" fill="none"/>
<circle cx="734.4" cy="1029.7" r="1.3" fill="#ff0000"/>
<path d="M696.7,1070.2h12.4M721.1,1070.2h14.5M745.6,1070.2h13" stroke="#22bb00" stroke-width="2.5" fill="none"/>
<path d="M696.7,1111.1h12.4M721.1,1111.1h14.5M745.6,1111.1h13" stroke="#8866f8" stroke-width="2.5" fill="none"/>
<path d="M696.7,1151.6h12.4M721.1,1151.6h14.5M745.6,1151.6h13" stroke="#0022ff" stroke-width="2.5" fill="none"/>
<line x1="697.9" y1="1192.4" x2="769.6" y2="1192.4" stroke="#dc0008" stroke-width="4.6" stroke-linecap="round"/>
<rect x="727.9" y="1185.8" width="13.2" height="13.2" rx="1" fill="#dc0008"/>
<g font-size="32.8" fill="#000">
<text x="779.4" y="999.9">Shear test data</text>
<text x="779.4" y="1040.8">Ogden model N=3</text>
<text x="779.4" y="1081.3">Mooney-Rivlin model</text>
<text x="779.4" y="1122">Neo-Hookean model</text>
<text x="779.4" y="1163">Yeoh model</text>
<text x="779.4" y="1203.5">Anssari-Benam model</text>
</g>
<text x="1037" y="1681" font-size="39" text-anchor="middle">Engineering Strain (100%)</text>
<text transform="translate(555,1272) rotate(-90)" font-size="39" text-anchor="middle">Engineering Stress (MPa)</text>
<text x="1032.5" y="1747.8" font-size="49" text-anchor="middle">(c)</text>
</g>
</svg></body></html>
